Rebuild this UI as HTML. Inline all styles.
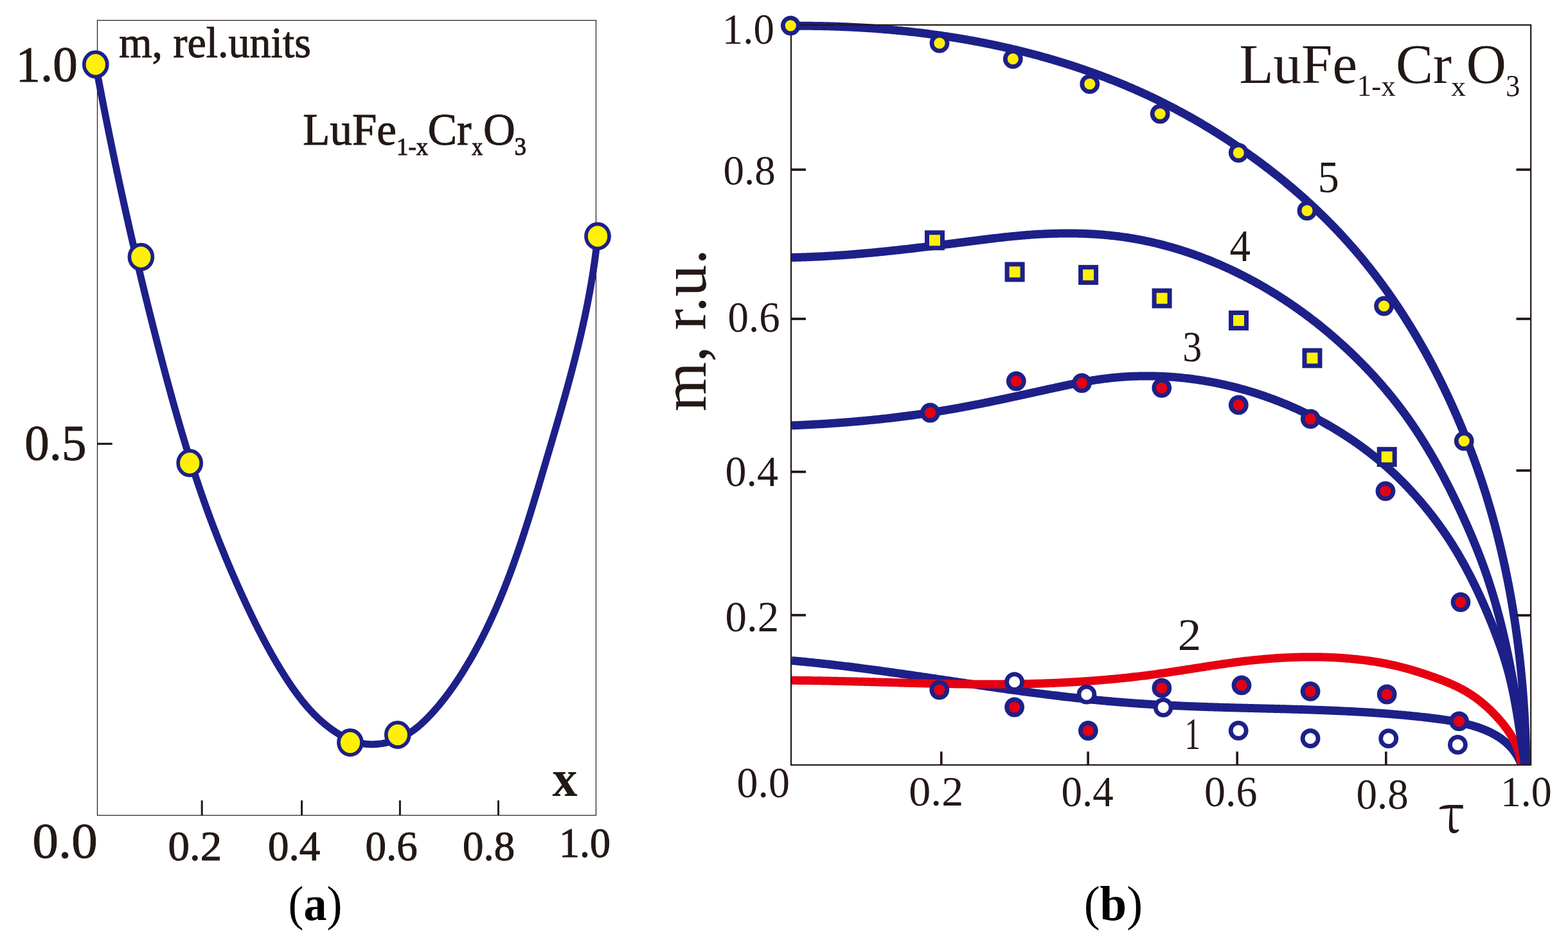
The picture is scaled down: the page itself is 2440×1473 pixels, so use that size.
<!DOCTYPE html>
<html><head><meta charset="utf-8"><title>LuFe1-xCrxO3 magnetization</title>
<style>html,body{margin:0;padding:0;background:#fff;width:2440px;height:1473px;overflow:hidden}svg{display:block}</style>
</head><body>
<svg width="2440" height="1473" viewBox="0 0 2440 1473" font-family="'Liberation Serif', 'Times New Roman', serif">
<rect width="2440" height="1473" fill="#fff"/>
<rect x="151.5" y="31.6" width="776" height="1236.6" fill="none" stroke="#231815" stroke-width="1.2"/>
<line x1="314.2" y1="1268" x2="314.2" y2="1245" stroke="#231815" stroke-width="3"/>
<line x1="469.6" y1="1268" x2="469.6" y2="1245" stroke="#231815" stroke-width="3"/>
<line x1="622.4" y1="1268" x2="622.4" y2="1245" stroke="#231815" stroke-width="3"/>
<line x1="775.5" y1="1268" x2="775.5" y2="1245" stroke="#231815" stroke-width="3"/>
<line x1="151.5" y1="690.3" x2="174.8" y2="690.3" stroke="#231815" stroke-width="3.2"/>
<path d="M148.8 100.2 L149.16 102.16 L149.53 104.13 L149.9 106.09 L150.26 108.06 L150.63 110.02 L151 111.98 L151.37 113.95 L151.74 115.91 L152.11 117.87 L152.48 119.84 L152.85 121.8 L153.22 123.76 L153.6 125.73 L153.97 127.69 L154.34 129.65 L154.72 131.61 L155.09 133.58 L155.47 135.54 L155.85 137.5 L156.22 139.46 L156.6 141.42 L156.98 143.39 L157.36 145.35 L157.74 147.31 L158.12 149.27 L158.5 151.23 L158.88 153.19 L159.26 155.15 L159.64 157.12 L160.03 159.08 L160.41 161.04 L160.79 163 L161.18 164.96 L161.56 166.92 L161.95 168.88 L162.34 170.84 L162.72 172.8 L163.11 174.76 L163.5 176.72 L163.89 178.68 L164.28 180.64 L164.67 182.6 L165.06 184.56 L165.45 186.52 L165.84 188.48 L166.23 190.44 L166.63 192.4 L167.02 194.36 L167.42 196.31 L167.81 198.27 L168.21 200.23 L168.6 202.19 L169 204.15 L169.4 206.11 L169.79 208.07 L170.19 210.02 L170.59 211.98 L170.99 213.94 L171.39 215.9 L171.79 217.85 L172.19 219.81 L172.6 221.77 L173 223.73 L173.4 225.68 L173.81 227.64 L174.21 229.6 L174.62 231.55 L175.02 233.51 L175.43 235.47 L175.84 237.42 L176.24 239.38 L176.65 241.34 L177.06 243.29 L177.47 245.25 L177.88 247.2 L178.29 249.16 L178.7 251.12 L179.11 253.07 L179.52 255.03 L179.94 256.98 L180.35 258.94 L180.77 260.89 L181.18 262.85 L181.6 264.8 L182.01 266.76 L182.43 268.71 L182.85 270.66 L183.26 272.62 L183.68 274.57 L184.1 276.53 L184.52 278.48 L184.94 280.43 L185.36 282.39 L185.78 284.34 L186.2 286.29 L186.63 288.25 L187.05 290.2 L187.47 292.15 L187.9 294.11 L188.32 296.06 L188.75 298.01 L189.17 299.96 L189.6 301.92 L190.03 303.87 L190.46 305.82 L190.89 307.77 L191.31 309.72 L191.74 311.67 L192.18 313.63 L192.61 315.58 L193.04 317.53 L193.47 319.48 L193.9 321.43 L194.34 323.38 L194.77 325.33 L195.2 327.28 L195.64 329.23 L196.08 331.18 L196.51 333.13 L196.95 335.08 L197.39 337.03 L197.83 338.98 L198.26 340.93 L198.7 342.88 L199.14 344.83 L199.58 346.78 L200.03 348.73 L200.47 350.68 L200.91 352.63 L201.35 354.58 L201.8 356.53 L202.24 358.47 L202.69 360.42 L203.13 362.37 L203.58 364.32 L204.02 366.27 L204.47 368.21 L204.92 370.16 L205.37 372.11 L205.82 374.06 L206.27 376 L206.72 377.95 L207.17 379.9 L207.62 381.84 L208.07 383.79 L208.52 385.74 L208.98 387.68 L209.43 389.63 L209.89 391.58 L210.34 393.52 L210.8 395.47 L211.25 397.41 L211.71 399.36 L212.17 401.3 L212.63 403.25 L213.09 405.19 L213.55 407.14 L214.01 409.08 L214.47 411.03 L214.93 412.97 L215.39 414.92 L215.85 416.86 L216.31 418.8 L216.78 420.75 L217.24 422.69 L217.71 424.64 L218.17 426.58 L218.64 428.52 L219.11 430.47 L219.57 432.41 L220.04 434.35 L220.51 436.29 L220.98 438.24 L221.45 440.18 L221.92 442.12 L222.39 444.06 L222.86 446.01 L223.33 447.95 L223.81 449.89 L224.28 451.83 L224.75 453.77 L225.23 455.71 L225.7 457.65 L226.18 459.59 L226.66 461.54 L227.13 463.48 L227.61 465.42 L228.09 467.36 L228.57 469.3 L229.05 471.24 L229.53 473.18 L230.01 475.12 L230.49 477.06 L230.97 478.99 L231.45 480.93 L231.94 482.87 L232.42 484.81 L232.9 486.75 L233.39 488.69 L233.88 490.63 L234.36 492.57 L234.85 494.5 L235.34 496.44 L235.82 498.38 L236.31 500.32 L236.8 502.25 L237.29 504.19 L237.78 506.13 L238.27 508.07 L238.76 510 L239.26 511.94 L239.75 513.88 L240.24 515.81 L240.74 517.75 L241.23 519.68 L241.73 521.62 L242.22 523.56 L242.72 525.49 L243.22 527.43 L243.71 529.36 L244.21 531.3 L244.71 533.23 L245.21 535.17 L245.71 537.1 L246.21 539.04 L246.71 540.97 L247.21 542.9 L247.72 544.84 L248.22 546.77 L248.72 548.71 L249.23 550.64 L249.73 552.57 L250.24 554.51 L250.75 556.44 L251.25 558.37 L251.76 560.3 L252.27 562.24 L252.78 564.17 L253.29 566.1 L253.8 568.03 L254.31 569.96 L254.82 571.9 L255.33 573.83 L255.85 575.76 L256.36 577.69 L256.87 579.62 L257.39 581.55 L257.91 583.48 L258.42 585.41 L258.94 587.34 L259.46 589.27 L259.98 591.2 L260.5 593.13 L261.02 595.06 L261.54 596.98 L262.07 598.91 L262.59 600.84 L263.12 602.77 L263.64 604.7 L264.17 606.62 L264.7 608.55 L265.23 610.48 L265.76 612.4 L266.29 614.33 L266.82 616.25 L267.35 618.18 L267.89 620.1 L268.42 622.03 L268.96 623.95 L269.49 625.88 L270.03 627.8 L270.57 629.73 L271.11 631.65 L271.65 633.57 L272.2 635.49 L272.74 637.42 L273.28 639.34 L273.83 641.26 L274.38 643.18 L274.93 645.1 L275.48 647.02 L276.03 648.94 L276.58 650.86 L277.13 652.78 L277.69 654.7 L278.24 656.62 L278.8 658.54 L279.36 660.45 L279.92 662.37 L280.48 664.29 L281.05 666.2 L281.61 668.12 L282.17 670.04 L282.74 671.95 L283.31 673.87 L283.88 675.78 L284.45 677.7 L285.02 679.61 L285.6 681.52 L286.17 683.44 L286.75 685.35 L287.33 687.26 L287.91 689.17 L288.49 691.08 L289.07 692.99 L289.66 694.9 L290.24 696.81 L290.83 698.72 L291.42 700.63 L292.01 702.54 L292.6 704.45 L293.2 706.35 L293.79 708.26 L294.39 710.17 L294.99 712.07 L295.59 713.98 L296.19 715.88 L296.79 717.79 L297.4 719.69 L298.01 721.59 L298.62 723.5 L299.23 725.4 L299.84 727.3 L300.45 729.2 L301.07 731.1 L301.69 733 L302.31 734.9 L302.93 736.8 L303.55 738.7 L304.18 740.6 L304.8 742.49 L305.43 744.39 L306.06 746.29 L306.7 748.18 L307.33 750.08 L307.97 751.97 L308.6 753.86 L309.24 755.76 L309.89 757.65 L310.53 759.54 L311.18 761.43 L311.83 763.32 L312.48 765.21 L313.13 767.1 L313.78 768.99 L314.44 770.88 L315.1 772.77 L315.76 774.66 L316.42 776.54 L317.08 778.43 L317.75 780.31 L318.42 782.2 L319.09 784.08 L319.76 785.96 L320.44 787.85 L321.12 789.73 L321.79 791.61 L322.48 793.49 L323.16 795.37 L323.85 797.25 L324.53 799.13 L325.22 801 L325.92 802.88 L326.61 804.76 L327.31 806.63 L328.01 808.51 L328.71 810.38 L329.41 812.26 L330.12 814.13 L330.83 816 L331.54 817.87 L332.25 819.74 L332.96 821.61 L333.68 823.48 L334.4 825.35 L335.12 827.22 L335.84 829.08 L336.56 830.95 L337.29 832.81 L338.02 834.68 L338.75 836.54 L339.48 838.4 L340.22 840.26 L340.95 842.12 L341.69 843.98 L342.44 845.84 L343.18 847.7 L343.92 849.56 L344.67 851.41 L345.42 853.27 L346.17 855.12 L346.93 856.97 L347.68 858.83 L348.44 860.68 L349.2 862.53 L349.96 864.38 L350.72 866.23 L351.49 868.08 L352.26 869.92 L353.03 871.77 L353.8 873.61 L354.57 875.46 L355.35 877.3 L356.13 879.14 L356.91 880.98 L357.69 882.82 L358.47 884.66 L359.26 886.5 L360.04 888.34 L360.83 890.17 L361.63 892.01 L362.42 893.84 L363.21 895.67 L364.01 897.5 L364.81 899.33 L365.61 901.16 L366.42 902.99 L367.22 904.82 L368.03 906.65 L368.84 908.47 L369.65 910.29 L370.46 912.12 L371.27 913.94 L372.09 915.76 L372.91 917.58 L373.73 919.4 L374.55 921.21 L375.38 923.03 L376.2 924.84 L377.03 926.66 L377.86 928.47 L378.69 930.28 L379.53 932.09 L380.36 933.9 L381.2 935.71 L382.04 937.51 L382.88 939.32 L383.72 941.12 L384.57 942.93 L385.41 944.73 L386.26 946.53 L387.11 948.33 L387.97 950.12 L388.82 951.92 L389.68 953.71 L390.54 955.51 L391.4 957.3 L392.27 959.09 L393.14 960.88 L394.01 962.67 L394.88 964.45 L395.76 966.24 L396.64 968.02 L397.52 969.81 L398.4 971.59 L399.29 973.37 L400.18 975.14 L401.07 976.92 L401.97 978.7 L402.87 980.47 L403.77 982.24 L404.68 984.01 L405.59 985.78 L406.5 987.55 L407.42 989.31 L408.34 991.08 L409.26 992.84 L410.19 994.6 L411.12 996.36 L412.06 998.12 L412.99 999.88 L413.94 1001.63 L414.88 1003.38 L415.83 1005.14 L416.79 1006.88 L417.75 1008.63 L418.71 1010.38 L419.68 1012.12 L420.65 1013.87 L421.62 1015.61 L422.6 1017.35 L423.59 1019.09 L424.58 1020.82 L425.57 1022.56 L426.57 1024.29 L427.57 1026.02 L428.58 1027.75 L429.59 1029.47 L430.61 1031.2 L431.63 1032.92 L432.66 1034.64 L433.69 1036.36 L434.73 1038.08 L435.77 1039.8 L436.82 1041.51 L437.87 1043.22 L438.93 1044.93 L439.99 1046.64 L441.06 1048.35 L442.13 1050.05 L443.21 1051.75 L444.3 1053.45 L445.39 1055.15 L446.49 1056.84 L447.59 1058.53 L448.7 1060.21 L449.82 1061.89 L450.94 1063.57 L452.07 1065.24 L453.21 1066.91 L454.35 1068.57 L455.51 1070.23 L456.66 1071.88 L457.83 1073.53 L459.01 1075.17 L460.19 1076.8 L461.38 1078.43 L462.58 1080.05 L463.78 1081.66 L465 1083.27 L466.22 1084.86 L467.45 1086.45 L468.69 1088.04 L469.94 1089.61 L471.2 1091.17 L472.47 1092.73 L473.74 1094.28 L475.03 1095.81 L476.32 1097.34 L477.63 1098.86 L478.95 1100.37 L480.27 1101.87 L481.61 1103.35 L482.95 1104.83 L484.31 1106.29 L485.68 1107.75 L487.05 1109.19 L488.44 1110.62 L489.84 1112.03 L491.25 1113.44 L492.67 1114.83 L494.11 1116.21 L495.55 1117.57 L497.01 1118.93 L498.48 1120.26 L499.96 1121.59 L501.45 1122.9 L502.96 1124.19 L504.47 1125.48 L506 1126.74 L507.54 1127.99 L509.1 1129.23 L510.67 1130.45 L512.25 1131.65 L513.84 1132.84 L515.45 1134.01 L517.07 1135.16 L518.71 1136.3 L520.36 1137.41 L522.02 1138.52 L523.69 1139.6 L525.39 1140.66 L527.09 1141.71 L528.81 1142.73 L530.54 1143.73 L532.28 1144.71 L534.04 1145.66 L535.81 1146.59 L537.6 1147.49 L539.39 1148.35 L541.2 1149.19 L543.02 1150 L544.86 1150.77 L546.7 1151.51 L548.56 1152.21 L550.43 1152.88 L552.31 1153.51 L554.2 1154.09 L556.1 1154.64 L558.01 1155.14 L559.93 1155.6 L561.86 1156.02 L563.81 1156.39 L565.76 1156.71 L567.72 1156.99 L569.69 1157.22 L571.67 1157.41 L573.65 1157.55 L575.63 1157.65 L577.62 1157.7 L579.61 1157.71 L581.61 1157.68 L583.61 1157.61 L585.6 1157.5 L587.6 1157.34 L589.59 1157.14 L591.58 1156.9 L593.57 1156.63 L595.56 1156.31 L597.54 1155.95 L599.51 1155.56 L601.48 1155.13 L603.43 1154.65 L605.39 1154.15 L607.33 1153.6 L609.26 1153.02 L611.18 1152.4 L613.09 1151.75 L614.99 1151.07 L616.87 1150.35 L618.74 1149.6 L620.6 1148.81 L622.45 1148 L624.28 1147.15 L626.09 1146.27 L627.88 1145.37 L629.66 1144.43 L631.43 1143.46 L633.17 1142.47 L634.89 1141.45 L636.6 1140.4 L638.28 1139.33 L639.94 1138.23 L641.58 1137.11 L643.2 1135.96 L644.81 1134.79 L646.39 1133.59 L647.95 1132.38 L649.5 1131.14 L651.03 1129.89 L652.54 1128.61 L654.04 1127.32 L655.52 1126.01 L656.99 1124.68 L658.44 1123.33 L659.88 1121.97 L661.31 1120.6 L662.73 1119.21 L664.13 1117.81 L665.53 1116.4 L666.91 1114.98 L668.29 1113.54 L669.65 1112.1 L671.01 1110.65 L672.36 1109.19 L673.7 1107.72 L675.04 1106.24 L676.36 1104.75 L677.68 1103.26 L678.99 1101.75 L680.29 1100.24 L681.59 1098.72 L682.88 1097.19 L684.15 1095.66 L685.43 1094.11 L686.69 1092.56 L687.95 1091 L689.2 1089.44 L690.44 1087.87 L691.67 1086.29 L692.9 1084.7 L694.12 1083.11 L695.33 1081.51 L696.53 1079.91 L697.73 1078.3 L698.92 1076.68 L700.11 1075.06 L701.29 1073.43 L702.46 1071.8 L703.62 1070.16 L704.78 1068.52 L705.93 1066.87 L707.07 1065.21 L708.21 1063.55 L709.34 1061.89 L710.46 1060.22 L711.58 1058.55 L712.69 1056.87 L713.8 1055.19 L714.9 1053.51 L715.99 1051.82 L717.08 1050.13 L718.16 1048.43 L719.23 1046.73 L720.3 1045.03 L721.37 1043.33 L722.42 1041.62 L723.48 1039.91 L724.52 1038.19 L725.56 1036.48 L726.6 1034.76 L727.63 1033.04 L728.65 1031.31 L729.67 1029.59 L730.68 1027.86 L731.69 1026.13 L732.69 1024.4 L733.69 1022.66 L734.68 1020.92 L735.67 1019.18 L736.65 1017.44 L737.62 1015.7 L738.59 1013.95 L739.56 1012.2 L740.52 1010.45 L741.47 1008.69 L742.42 1006.94 L743.37 1005.18 L744.31 1003.42 L745.25 1001.66 L746.18 999.89 L747.1 998.12 L748.02 996.36 L748.94 994.58 L749.85 992.81 L750.76 991.04 L751.66 989.26 L752.55 987.48 L753.45 985.7 L754.33 983.91 L755.22 982.13 L756.1 980.34 L756.97 978.55 L757.84 976.76 L758.71 974.97 L759.57 973.17 L760.42 971.37 L761.27 969.57 L762.12 967.77 L762.97 965.97 L763.8 964.16 L764.64 962.36 L765.47 960.55 L766.3 958.74 L767.12 956.93 L767.94 955.11 L768.75 953.3 L769.56 951.48 L770.37 949.66 L771.17 947.84 L771.97 946.01 L772.76 944.19 L773.55 942.36 L774.34 940.54 L775.12 938.71 L775.9 936.88 L776.68 935.04 L777.45 933.21 L778.22 931.37 L778.98 929.53 L779.75 927.69 L780.5 925.85 L781.26 924.01 L782.01 922.17 L782.76 920.32 L783.5 918.48 L784.24 916.63 L784.98 914.78 L785.71 912.93 L786.44 911.07 L787.17 909.22 L787.89 907.36 L788.61 905.51 L789.33 903.65 L790.04 901.79 L790.75 899.93 L791.46 898.07 L792.17 896.2 L792.87 894.34 L793.57 892.47 L794.27 890.6 L794.96 888.73 L795.65 886.86 L796.34 884.99 L797.02 883.12 L797.7 881.25 L798.38 879.37 L799.06 877.5 L799.73 875.62 L800.41 873.74 L801.07 871.86 L801.74 869.98 L802.4 868.1 L803.07 866.22 L803.72 864.33 L804.38 862.45 L805.03 860.56 L805.69 858.68 L806.34 856.79 L806.98 854.9 L807.63 853.01 L808.27 851.12 L808.91 849.23 L809.55 847.33 L810.18 845.44 L810.82 843.55 L811.45 841.65 L812.08 839.76 L812.71 837.86 L813.33 835.96 L813.96 834.06 L814.58 832.16 L815.2 830.26 L815.82 828.36 L816.43 826.46 L817.05 824.56 L817.66 822.65 L818.27 820.75 L818.88 818.84 L819.49 816.94 L820.1 815.03 L820.7 813.13 L821.3 811.22 L821.91 809.31 L822.51 807.4 L823.1 805.49 L823.7 803.58 L824.3 801.67 L824.89 799.76 L825.49 797.85 L826.08 795.94 L826.67 794.02 L827.26 792.11 L827.85 790.2 L828.43 788.28 L829.02 786.37 L829.61 784.45 L830.19 782.54 L830.77 780.62 L831.35 778.71 L831.94 776.79 L832.52 774.87 L833.1 772.96 L833.67 771.04 L834.25 769.12 L834.83 767.2 L835.41 765.29 L835.98 763.37 L836.56 761.45 L837.13 759.53 L837.7 757.61 L838.28 755.69 L838.85 753.77 L839.42 751.85 L839.99 749.93 L840.56 748.01 L841.13 746.09 L841.7 744.17 L842.27 742.25 L842.84 740.33 L843.41 738.41 L843.98 736.48 L844.55 734.56 L845.12 732.64 L845.69 730.72 L846.26 728.8 L846.82 726.88 L847.39 724.96 L847.96 723.04 L848.53 721.12 L849.1 719.2 L849.67 717.28 L850.23 715.35 L850.8 713.43 L851.37 711.51 L851.94 709.59 L852.51 707.67 L853.08 705.75 L853.64 703.83 L854.21 701.91 L854.78 699.99 L855.35 698.07 L855.92 696.15 L856.48 694.23 L857.05 692.31 L857.62 690.39 L858.18 688.47 L858.75 686.55 L859.32 684.63 L859.88 682.71 L860.45 680.79 L861.01 678.87 L861.58 676.95 L862.14 675.03 L862.7 673.11 L863.27 671.19 L863.83 669.27 L864.39 667.35 L864.95 665.43 L865.51 663.51 L866.07 661.58 L866.63 659.66 L867.19 657.74 L867.75 655.82 L868.31 653.9 L868.86 651.98 L869.42 650.06 L869.97 648.14 L870.53 646.21 L871.08 644.29 L871.63 642.37 L872.19 640.45 L872.74 638.53 L873.29 636.6 L873.84 634.68 L874.38 632.76 L874.93 630.84 L875.48 628.91 L876.02 626.99 L876.57 625.07 L877.11 623.14 L877.65 621.22 L878.19 619.3 L878.73 617.37 L879.27 615.45 L879.81 613.52 L880.35 611.6 L880.88 609.67 L881.41 607.75 L881.95 605.82 L882.48 603.9 L883.01 601.97 L883.53 600.04 L884.06 598.12 L884.59 596.19 L885.11 594.26 L885.63 592.34 L886.16 590.41 L886.67 588.48 L887.19 586.55 L887.71 584.62 L888.22 582.7 L888.74 580.77 L889.25 578.84 L889.76 576.91 L890.27 574.98 L890.78 573.05 L891.28 571.12 L891.78 569.18 L892.29 567.25 L892.79 565.32 L893.28 563.39 L893.78 561.46 L894.28 559.52 L894.77 557.59 L895.26 555.66 L895.75 553.72 L896.23 551.79 L896.72 549.85 L897.2 547.92 L897.68 545.98 L898.16 544.05 L898.64 542.11 L899.11 540.17 L899.59 538.24 L900.06 536.3 L900.52 534.36 L900.99 532.42 L901.45 530.48 L901.92 528.54 L902.38 526.6 L902.83 524.66 L903.29 522.72 L903.74 520.78 L904.19 518.84 L904.64 516.89 L905.09 514.95 L905.53 513.01 L905.97 511.06 L906.41 509.12 L906.84 507.17 L907.28 505.23 L907.71 503.28 L908.14 501.34 L908.56 499.39 L908.98 497.44 L909.4 495.49 L909.82 493.54 L910.24 491.59 L910.65 489.64 L911.06 487.69 L911.47 485.74 L911.87 483.79 L912.27 481.84 L912.67 479.89 L913.07 477.93 L913.46 475.98 L913.85 474.02 L914.24 472.07 L914.62 470.11 L915 468.16 L915.38 466.2 L915.76 464.24 L916.13 462.28 L916.5 460.32 L916.87 458.36 L917.23 456.4 L917.59 454.44 L917.95 452.48 L918.3 450.52 L918.65 448.55 L919 446.59 L919.34 444.62 L919.69 442.66 L920.02 440.69 L920.36 438.73 L920.69 436.76 L921.02 434.79 L921.34 432.82 L921.66 430.85 L921.98 428.88 L922.29 426.91 L922.61 424.94 L922.91 422.97 L923.22 420.99 L923.52 419.02 L923.81 417.04 L924.11 415.07 L924.4 413.09 L924.68 411.11 L924.97 409.14 L925.24 407.16 L925.52 405.18 L925.79 403.2 L926.06 401.21 L926.32 399.23 L926.58 397.25 L926.84 395.27 L927.09 393.28 L927.34 391.3 L927.58 389.31 L927.82 387.32 L928.06 385.33 L928.29 383.34 L928.52 381.35 L928.75 379.36 L928.97 377.37 L929.19 375.38 L929.4 373.39 L929.61 371.39 L929.81 369.4 L930.01 367.4" fill="none" stroke="#1d2088" stroke-width="11" stroke-linejoin="round"/>
<ellipse cx="148.8" cy="100.2" rx="18" ry="19.1" fill="#fff100" stroke="#1d2088" stroke-width="5.7"/>
<ellipse cx="219.4" cy="399.7" rx="18" ry="19.1" fill="#fff100" stroke="#1d2088" stroke-width="5.7"/>
<ellipse cx="295.2" cy="720.2" rx="18" ry="19.1" fill="#fff100" stroke="#1d2088" stroke-width="5.7"/>
<ellipse cx="545" cy="1155" rx="18" ry="19.1" fill="#fff100" stroke="#1d2088" stroke-width="5.7"/>
<ellipse cx="618.8" cy="1143" rx="18" ry="19.1" fill="#fff100" stroke="#1d2088" stroke-width="5.7"/>
<ellipse cx="930" cy="367.4" rx="18" ry="19.1" fill="#fff100" stroke="#1d2088" stroke-width="5.7"/>
<g fill="none" stroke-width="13" stroke-linecap="butt" stroke-linejoin="round">
<path d="M1232 1027.5 L1233.99 1027.67 L1235.98 1027.85 L1237.97 1028.03 L1239.96 1028.21 L1241.95 1028.4 L1243.94 1028.58 L1245.93 1028.77 L1247.92 1028.96 L1249.91 1029.15 L1251.9 1029.34 L1253.88 1029.53 L1255.87 1029.73 L1257.86 1029.92 L1259.85 1030.12 L1261.84 1030.32 L1263.82 1030.53 L1265.81 1030.73 L1267.8 1030.94 L1269.78 1031.14 L1271.77 1031.35 L1273.76 1031.56 L1275.74 1031.78 L1277.73 1031.99 L1279.71 1032.21 L1281.7 1032.42 L1283.69 1032.64 L1285.67 1032.86 L1287.66 1033.08 L1289.64 1033.31 L1291.62 1033.53 L1293.61 1033.76 L1295.59 1033.98 L1297.58 1034.21 L1299.56 1034.44 L1301.55 1034.68 L1303.53 1034.91 L1305.51 1035.14 L1307.5 1035.38 L1309.48 1035.62 L1311.46 1035.86 L1313.44 1036.1 L1315.43 1036.34 L1317.41 1036.58 L1319.39 1036.82 L1321.37 1037.07 L1323.35 1037.31 L1325.34 1037.56 L1327.32 1037.81 L1329.3 1038.06 L1331.28 1038.31 L1333.26 1038.56 L1335.24 1038.82 L1337.22 1039.07 L1339.2 1039.33 L1341.19 1039.58 L1343.17 1039.84 L1345.15 1040.1 L1347.13 1040.36 L1349.11 1040.62 L1351.09 1040.88 L1353.07 1041.14 L1355.05 1041.41 L1357.03 1041.67 L1359.01 1041.94 L1360.98 1042.2 L1362.96 1042.47 L1364.94 1042.74 L1366.92 1043.01 L1368.9 1043.28 L1370.88 1043.55 L1372.86 1043.82 L1374.84 1044.09 L1376.82 1044.37 L1378.79 1044.64 L1380.77 1044.92 L1382.75 1045.19 L1384.73 1045.47 L1386.71 1045.74 L1388.69 1046.02 L1390.66 1046.3 L1392.64 1046.58 L1394.62 1046.86 L1396.6 1047.14 L1398.57 1047.42 L1400.55 1047.7 L1402.53 1047.99 L1404.51 1048.27 L1406.48 1048.55 L1408.46 1048.84 L1410.44 1049.12 L1412.41 1049.41 L1414.39 1049.69 L1416.37 1049.98 L1418.35 1050.26 L1420.32 1050.55 L1422.3 1050.84 L1424.28 1051.13 L1426.25 1051.42 L1428.23 1051.7 L1430.21 1051.99 L1432.18 1052.28 L1434.16 1052.57 L1436.14 1052.86 L1438.11 1053.15 L1440.09 1053.44 L1442.07 1053.73 L1444.04 1054.03 L1446.02 1054.32 L1447.99 1054.61 L1449.97 1054.9 L1451.95 1055.19 L1453.92 1055.49 L1455.9 1055.78 L1457.87 1056.07 L1459.85 1056.36 L1461.83 1056.66 L1463.8 1056.95 L1465.78 1057.24 L1467.76 1057.54 L1469.73 1057.83 L1471.71 1058.12 L1473.68 1058.42 L1475.66 1058.71 L1477.64 1059 L1479.61 1059.3 L1481.59 1059.59 L1483.56 1059.88 L1485.54 1060.18 L1487.52 1060.47 L1489.49 1060.76 L1491.47 1061.06 L1493.44 1061.35 L1495.42 1061.64 L1497.4 1061.93 L1499.37 1062.23 L1501.35 1062.52 L1503.33 1062.81 L1505.3 1063.1 L1507.28 1063.39 L1509.26 1063.69 L1511.23 1063.98 L1513.21 1064.27 L1515.18 1064.56 L1517.16 1064.85 L1519.14 1065.14 L1521.11 1065.43 L1523.09 1065.72 L1525.07 1066 L1527.04 1066.29 L1529.02 1066.58 L1531 1066.87 L1532.97 1067.16 L1534.95 1067.44 L1536.93 1067.73 L1538.91 1068.01 L1540.88 1068.3 L1542.86 1068.58 L1544.84 1068.87 L1546.81 1069.15 L1548.79 1069.43 L1550.77 1069.72 L1552.75 1070 L1554.72 1070.28 L1556.7 1070.56 L1558.68 1070.84 L1560.66 1071.12 L1562.64 1071.4 L1564.61 1071.68 L1566.59 1071.95 L1568.57 1072.23 L1570.55 1072.5 L1572.53 1072.78 L1574.51 1073.05 L1576.48 1073.33 L1578.46 1073.6 L1580.44 1073.87 L1582.42 1074.14 L1584.4 1074.41 L1586.38 1074.68 L1588.36 1074.95 L1590.34 1075.22 L1592.32 1075.48 L1594.3 1075.75 L1596.28 1076.01 L1598.26 1076.28 L1600.24 1076.54 L1602.22 1076.8 L1604.2 1077.06 L1606.18 1077.32 L1608.16 1077.58 L1610.14 1077.84 L1612.12 1078.1 L1614.1 1078.35 L1616.08 1078.61 L1618.06 1078.86 L1620.04 1079.12 L1622.02 1079.37 L1624 1079.62 L1625.99 1079.87 L1627.97 1080.12 L1629.95 1080.36 L1631.93 1080.61 L1633.91 1080.85 L1635.9 1081.1 L1637.88 1081.34 L1639.86 1081.58 L1641.84 1081.82 L1643.83 1082.06 L1645.81 1082.3 L1647.79 1082.54 L1649.77 1082.77 L1651.76 1083.01 L1653.74 1083.24 L1655.72 1083.47 L1657.71 1083.7 L1659.69 1083.93 L1661.68 1084.16 L1663.66 1084.38 L1665.64 1084.61 L1667.63 1084.83 L1669.61 1085.05 L1671.6 1085.27 L1673.58 1085.49 L1675.57 1085.71 L1677.55 1085.93 L1679.54 1086.14 L1681.52 1086.36 L1683.51 1086.57 L1685.5 1086.78 L1687.48 1086.99 L1689.47 1087.2 L1691.45 1087.4 L1693.44 1087.61 L1695.43 1087.81 L1697.41 1088.01 L1699.4 1088.21 L1701.39 1088.41 L1703.38 1088.61 L1705.36 1088.8 L1707.35 1089 L1709.34 1089.19 L1711.33 1089.38 L1713.31 1089.57 L1715.3 1089.75 L1717.29 1089.94 L1719.28 1090.12 L1721.27 1090.31 L1723.26 1090.49 L1725.25 1090.66 L1727.24 1090.84 L1729.23 1091.02 L1731.22 1091.19 L1733.21 1091.36 L1735.2 1091.53 L1737.19 1091.7 L1739.18 1091.87 L1741.17 1092.03 L1743.16 1092.19 L1745.15 1092.35 L1747.14 1092.51 L1749.13 1092.67 L1751.12 1092.83 L1753.12 1092.98 L1755.11 1093.13 L1757.1 1093.28 L1759.09 1093.43 L1761.09 1093.57 L1763.08 1093.72 L1765.07 1093.86 L1767.06 1094 L1769.06 1094.14 L1771.05 1094.28 L1773.04 1094.41 L1775.04 1094.55 L1777.03 1094.68 L1779.03 1094.81 L1781.02 1094.94 L1783.02 1095.07 L1785.01 1095.19 L1787 1095.32 L1789 1095.44 L1790.99 1095.56 L1792.99 1095.68 L1794.98 1095.8 L1796.98 1095.91 L1798.98 1096.03 L1800.97 1096.14 L1802.97 1096.25 L1804.96 1096.36 L1806.96 1096.47 L1808.95 1096.58 L1810.95 1096.69 L1812.95 1096.79 L1814.94 1096.89 L1816.94 1097 L1818.93 1097.1 L1820.93 1097.2 L1822.93 1097.3 L1824.92 1097.39 L1826.92 1097.49 L1828.92 1097.58 L1830.91 1097.68 L1832.91 1097.77 L1834.91 1097.86 L1836.91 1097.95 L1838.9 1098.04 L1840.9 1098.12 L1842.9 1098.21 L1844.89 1098.29 L1846.89 1098.38 L1848.89 1098.46 L1850.89 1098.54 L1852.88 1098.62 L1854.88 1098.7 L1856.88 1098.78 L1858.87 1098.86 L1860.87 1098.93 L1862.87 1099.01 L1864.87 1099.08 L1866.86 1099.16 L1868.86 1099.23 L1870.86 1099.3 L1872.86 1099.37 L1874.85 1099.44 L1876.85 1099.51 L1878.85 1099.58 L1880.85 1099.65 L1882.84 1099.71 L1884.84 1099.78 L1886.84 1099.84 L1888.84 1099.91 L1890.83 1099.97 L1892.83 1100.03 L1894.83 1100.09 L1896.82 1100.16 L1898.82 1100.22 L1900.82 1100.28 L1902.82 1100.34 L1904.81 1100.39 L1906.81 1100.45 L1908.81 1100.51 L1910.8 1100.57 L1912.8 1100.62 L1914.8 1100.68 L1916.79 1100.73 L1918.79 1100.79 L1920.79 1100.84 L1922.78 1100.89 L1924.78 1100.95 L1926.78 1101 L1928.77 1101.05 L1930.77 1101.11 L1932.76 1101.16 L1934.76 1101.21 L1936.76 1101.26 L1938.75 1101.31 L1940.75 1101.36 L1942.75 1101.41 L1944.74 1101.46 L1946.74 1101.51 L1948.73 1101.56 L1950.73 1101.61 L1952.73 1101.66 L1954.72 1101.71 L1956.72 1101.76 L1958.71 1101.81 L1960.71 1101.86 L1962.7 1101.91 L1964.7 1101.96 L1966.7 1102.01 L1968.69 1102.06 L1970.69 1102.11 L1972.68 1102.16 L1974.68 1102.21 L1976.67 1102.26 L1978.67 1102.31 L1980.66 1102.36 L1982.66 1102.41 L1984.65 1102.46 L1986.65 1102.51 L1988.64 1102.56 L1990.64 1102.61 L1992.63 1102.66 L1994.63 1102.71 L1996.62 1102.77 L1998.62 1102.82 L2000.61 1102.87 L2002.61 1102.93 L2004.6 1102.98 L2006.6 1103.04 L2008.59 1103.09 L2010.59 1103.15 L2012.58 1103.2 L2014.58 1103.26 L2016.57 1103.32 L2018.57 1103.37 L2020.56 1103.43 L2022.55 1103.49 L2024.55 1103.55 L2026.54 1103.61 L2028.54 1103.67 L2030.53 1103.73 L2032.53 1103.8 L2034.52 1103.86 L2036.51 1103.92 L2038.51 1103.99 L2040.5 1104.05 L2042.5 1104.12 L2044.49 1104.19 L2046.49 1104.25 L2048.48 1104.32 L2050.47 1104.39 L2052.47 1104.47 L2054.46 1104.54 L2056.45 1104.61 L2058.45 1104.68 L2060.44 1104.76 L2062.44 1104.84 L2064.43 1104.91 L2066.42 1104.99 L2068.42 1105.07 L2070.41 1105.15 L2072.4 1105.23 L2074.4 1105.31 L2076.39 1105.4 L2078.38 1105.48 L2080.38 1105.57 L2082.37 1105.66 L2084.36 1105.75 L2086.36 1105.84 L2088.35 1105.93 L2090.34 1106.02 L2092.34 1106.12 L2094.33 1106.21 L2096.32 1106.31 L2098.32 1106.41 L2100.31 1106.51 L2102.3 1106.61 L2104.3 1106.71 L2106.29 1106.82 L2108.28 1106.93 L2110.27 1107.03 L2112.27 1107.14 L2114.26 1107.25 L2116.25 1107.37 L2118.25 1107.48 L2120.24 1107.6 L2122.23 1107.72 L2124.22 1107.84 L2126.22 1107.96 L2128.21 1108.08 L2130.2 1108.2 L2132.19 1108.33 L2134.19 1108.46 L2136.18 1108.59 L2138.17 1108.72 L2140.16 1108.86 L2142.16 1108.99 L2144.15 1109.13 L2146.14 1109.27 L2148.13 1109.41 L2150.12 1109.56 L2152.12 1109.7 L2154.11 1109.85 L2156.1 1110 L2158.09 1110.15 L2160.09 1110.31 L2162.08 1110.46 L2164.07 1110.62 L2166.06 1110.78 L2168.05 1110.94 L2170.05 1111.11 L2172.04 1111.28 L2174.03 1111.45 L2176.02 1111.62 L2178.01 1111.79 L2180.01 1111.97 L2182 1112.15 L2183.99 1112.33 L2185.98 1112.51 L2187.97 1112.7 L2189.96 1112.89 L2191.96 1113.08 L2193.95 1113.27 L2195.94 1113.47 L2197.93 1113.66 L2199.92 1113.87 L2201.91 1114.07 L2203.9 1114.27 L2205.9 1114.48 L2207.89 1114.69 L2209.88 1114.91 L2211.87 1115.13 L2213.86 1115.34 L2215.85 1115.57 L2217.84 1115.79 L2219.84 1116.02 L2221.83 1116.25 L2223.82 1116.48 L2225.81 1116.72 L2227.8 1116.96 L2229.79 1117.2 L2231.78 1117.44 L2233.77 1117.69 L2235.76 1117.95 L2237.75 1118.21 L2239.74 1118.47 L2241.73 1118.75 L2243.72 1119.02 L2245.7 1119.31 L2247.69 1119.6 L2249.67 1119.9 L2251.65 1120.2 L2253.64 1120.52 L2255.62 1120.84 L2257.6 1121.17 L2259.57 1121.51 L2261.55 1121.86 L2263.52 1122.22 L2265.5 1122.59 L2267.47 1122.97 L2269.44 1123.37 L2271.4 1123.77 L2273.37 1124.19 L2275.33 1124.62 L2277.29 1125.06 L2279.24 1125.51 L2281.19 1125.98 L2283.14 1126.47 L2285.08 1126.97 L2287.02 1127.48 L2288.95 1128.01 L2290.88 1128.55 L2292.8 1129.12 L2294.71 1129.7 L2296.62 1130.29 L2298.52 1130.91 L2300.41 1131.54 L2302.3 1132.19 L2304.17 1132.86 L2306.04 1133.55 L2307.9 1134.27 L2309.74 1135 L2311.58 1135.75 L2313.4 1136.53 L2315.21 1137.32 L2317.01 1138.14 L2318.79 1138.99 L2320.56 1139.85 L2322.31 1140.75 L2324.05 1141.66 L2325.77 1142.6 L2327.47 1143.57 L2329.15 1144.56 L2330.82 1145.58 L2332.47 1146.63 L2334.09 1147.7 L2335.7 1148.81 L2337.28 1149.94 L2338.84 1151.1 L2340.37 1152.29 L2341.88 1153.51 L2343.37 1154.76 L2344.83 1156.04 L2346.26 1157.36 L2347.66 1158.7 L2349.03 1160.08 L2350.38 1161.49 L2351.69 1162.94 L2352.98 1164.42 L2354.23 1165.93 L2355.45 1167.48 L2356.63 1169.07 L2357.78 1170.69 L2358.9 1172.34 L2359.98 1174.04 L2361.02 1175.77 L2362.02 1177.54 L2362.99 1179.35 L2363.91 1181.2 L2364.8 1183.09 L2365.64 1185.02 L2366.45 1186.99 L2367.21 1189" stroke="#1d2088"/>
<path d="M1232 1058.3 L1234 1058.31 L1236 1058.33 L1238 1058.34 L1240 1058.36 L1242 1058.38 L1244 1058.39 L1245.99 1058.41 L1247.99 1058.43 L1249.99 1058.45 L1251.99 1058.48 L1253.99 1058.5 L1255.99 1058.52 L1257.99 1058.55 L1259.99 1058.58 L1261.99 1058.6 L1263.99 1058.63 L1265.98 1058.66 L1267.98 1058.69 L1269.98 1058.72 L1271.98 1058.76 L1273.98 1058.79 L1275.98 1058.82 L1277.98 1058.86 L1279.98 1058.89 L1281.98 1058.93 L1283.97 1058.97 L1285.97 1059 L1287.97 1059.04 L1289.97 1059.08 L1291.97 1059.12 L1293.97 1059.16 L1295.97 1059.21 L1297.97 1059.25 L1299.96 1059.29 L1301.96 1059.33 L1303.96 1059.38 L1305.96 1059.42 L1307.96 1059.47 L1309.96 1059.51 L1311.96 1059.56 L1313.96 1059.61 L1315.95 1059.66 L1317.95 1059.7 L1319.95 1059.75 L1321.95 1059.8 L1323.95 1059.85 L1325.95 1059.9 L1327.95 1059.95 L1329.95 1060 L1331.94 1060.05 L1333.94 1060.11 L1335.94 1060.16 L1337.94 1060.21 L1339.94 1060.26 L1341.94 1060.31 L1343.94 1060.37 L1345.93 1060.42 L1347.93 1060.48 L1349.93 1060.53 L1351.93 1060.58 L1353.93 1060.64 L1355.93 1060.69 L1357.92 1060.75 L1359.92 1060.8 L1361.92 1060.86 L1363.92 1060.91 L1365.92 1060.97 L1367.92 1061.02 L1369.92 1061.08 L1371.91 1061.14 L1373.91 1061.19 L1375.91 1061.25 L1377.91 1061.3 L1379.91 1061.36 L1381.91 1061.41 L1383.91 1061.47 L1385.9 1061.52 L1387.9 1061.58 L1389.9 1061.64 L1391.9 1061.69 L1393.9 1061.75 L1395.9 1061.8 L1397.89 1061.86 L1399.89 1061.91 L1401.89 1061.97 L1403.89 1062.02 L1405.89 1062.07 L1407.89 1062.13 L1409.89 1062.18 L1411.88 1062.24 L1413.88 1062.29 L1415.88 1062.34 L1417.88 1062.39 L1419.88 1062.45 L1421.88 1062.5 L1423.87 1062.55 L1425.87 1062.6 L1427.87 1062.65 L1429.87 1062.7 L1431.87 1062.75 L1433.87 1062.8 L1435.87 1062.85 L1437.86 1062.9 L1439.86 1062.95 L1441.86 1062.99 L1443.86 1063.04 L1445.86 1063.09 L1447.86 1063.13 L1449.85 1063.18 L1451.85 1063.22 L1453.85 1063.27 L1455.85 1063.31 L1457.85 1063.35 L1459.85 1063.39 L1461.85 1063.43 L1463.84 1063.48 L1465.84 1063.52 L1467.84 1063.55 L1469.84 1063.59 L1471.84 1063.63 L1473.84 1063.67 L1475.84 1063.7 L1477.83 1063.74 L1479.83 1063.77 L1481.83 1063.81 L1483.83 1063.84 L1485.83 1063.87 L1487.83 1063.9 L1489.83 1063.93 L1491.82 1063.96 L1493.82 1063.99 L1495.82 1064.02 L1497.82 1064.04 L1499.82 1064.07 L1501.82 1064.09 L1503.82 1064.11 L1505.81 1064.14 L1507.81 1064.16 L1509.81 1064.18 L1511.81 1064.2 L1513.81 1064.21 L1515.81 1064.23 L1517.81 1064.25 L1519.8 1064.26 L1521.8 1064.27 L1523.8 1064.29 L1525.8 1064.3 L1527.8 1064.31 L1529.8 1064.31 L1531.8 1064.32 L1533.8 1064.33 L1535.8 1064.33 L1537.79 1064.33 L1539.79 1064.34 L1541.79 1064.34 L1543.79 1064.33 L1545.79 1064.33 L1547.79 1064.33 L1549.79 1064.32 L1551.79 1064.32 L1553.79 1064.31 L1555.78 1064.3 L1557.78 1064.29 L1559.78 1064.28 L1561.78 1064.26 L1563.78 1064.25 L1565.78 1064.23 L1567.78 1064.21 L1569.78 1064.19 L1571.78 1064.17 L1573.78 1064.14 L1575.77 1064.12 L1577.77 1064.09 L1579.77 1064.06 L1581.77 1064.03 L1583.77 1064 L1585.77 1063.97 L1587.77 1063.93 L1589.77 1063.9 L1591.77 1063.86 L1593.77 1063.82 L1595.77 1063.78 L1597.76 1063.73 L1599.76 1063.69 L1601.76 1063.64 L1603.76 1063.59 L1605.76 1063.54 L1607.76 1063.49 L1609.76 1063.43 L1611.76 1063.37 L1613.76 1063.32 L1615.76 1063.26 L1617.75 1063.19 L1619.75 1063.13 L1621.75 1063.07 L1623.75 1063 L1625.75 1062.93 L1627.75 1062.86 L1629.75 1062.78 L1631.74 1062.71 L1633.74 1062.63 L1635.74 1062.55 L1637.74 1062.47 L1639.74 1062.39 L1641.74 1062.3 L1643.73 1062.22 L1645.73 1062.13 L1647.73 1062.04 L1649.73 1061.94 L1651.72 1061.85 L1653.72 1061.75 L1655.72 1061.65 L1657.72 1061.55 L1659.71 1061.45 L1661.71 1061.35 L1663.71 1061.24 L1665.7 1061.13 L1667.7 1061.02 L1669.7 1060.9 L1671.69 1060.79 L1673.69 1060.67 L1675.68 1060.55 L1677.68 1060.43 L1679.67 1060.31 L1681.67 1060.18 L1683.67 1060.05 L1685.66 1059.92 L1687.66 1059.79 L1689.65 1059.65 L1691.64 1059.52 L1693.64 1059.38 L1695.63 1059.24 L1697.63 1059.09 L1699.62 1058.95 L1701.61 1058.8 L1703.61 1058.65 L1705.6 1058.5 L1707.59 1058.34 L1709.59 1058.18 L1711.58 1058.03 L1713.57 1057.86 L1715.56 1057.7 L1717.56 1057.53 L1719.55 1057.36 L1721.54 1057.19 L1723.53 1057.02 L1725.52 1056.84 L1727.51 1056.67 L1729.5 1056.49 L1731.49 1056.3 L1733.48 1056.12 L1735.47 1055.93 L1737.46 1055.74 L1739.45 1055.55 L1741.44 1055.35 L1743.43 1055.15 L1745.42 1054.96 L1747.4 1054.75 L1749.39 1054.55 L1751.38 1054.34 L1753.37 1054.13 L1755.35 1053.92 L1757.34 1053.7 L1759.32 1053.49 L1761.31 1053.27 L1763.3 1053.05 L1765.28 1052.82 L1767.27 1052.59 L1769.25 1052.36 L1771.24 1052.13 L1773.22 1051.9 L1775.2 1051.66 L1777.19 1051.42 L1779.17 1051.17 L1781.15 1050.93 L1783.13 1050.68 L1785.12 1050.43 L1787.1 1050.18 L1789.08 1049.92 L1791.06 1049.66 L1793.04 1049.4 L1795.02 1049.14 L1797 1048.87 L1798.98 1048.6 L1800.96 1048.33 L1802.94 1048.05 L1804.92 1047.78 L1806.89 1047.5 L1808.87 1047.21 L1810.85 1046.93 L1812.83 1046.64 L1814.8 1046.36 L1816.78 1046.06 L1818.76 1045.77 L1820.73 1045.48 L1822.71 1045.18 L1824.68 1044.89 L1826.66 1044.59 L1828.63 1044.29 L1830.61 1043.99 L1832.58 1043.68 L1834.56 1043.38 L1836.53 1043.07 L1838.51 1042.77 L1840.48 1042.46 L1842.46 1042.15 L1844.43 1041.85 L1846.41 1041.54 L1848.38 1041.23 L1850.36 1040.92 L1852.33 1040.61 L1854.3 1040.3 L1856.28 1039.99 L1858.25 1039.68 L1860.23 1039.37 L1862.2 1039.06 L1864.18 1038.75 L1866.15 1038.44 L1868.13 1038.13 L1870.1 1037.82 L1872.08 1037.52 L1874.05 1037.21 L1876.03 1036.9 L1878 1036.6 L1879.98 1036.29 L1881.95 1035.99 L1883.93 1035.69 L1885.9 1035.39 L1887.88 1035.09 L1889.86 1034.79 L1891.84 1034.49 L1893.81 1034.2 L1895.79 1033.91 L1897.77 1033.61 L1899.75 1033.32 L1901.73 1033.04 L1903.7 1032.75 L1905.68 1032.47 L1907.66 1032.19 L1909.64 1031.91 L1911.62 1031.63 L1913.61 1031.36 L1915.59 1031.09 L1917.57 1030.82 L1919.55 1030.56 L1921.53 1030.29 L1923.52 1030.04 L1925.5 1029.78 L1927.49 1029.53 L1929.47 1029.28 L1931.46 1029.03 L1933.44 1028.79 L1935.43 1028.55 L1937.42 1028.31 L1939.41 1028.08 L1941.39 1027.85 L1943.38 1027.63 L1945.37 1027.41 L1947.36 1027.19 L1949.35 1026.98 L1951.34 1026.77 L1953.34 1026.56 L1955.33 1026.36 L1957.32 1026.17 L1959.31 1025.97 L1961.31 1025.78 L1963.3 1025.6 L1965.3 1025.42 L1967.29 1025.24 L1969.29 1025.07 L1971.28 1024.9 L1973.28 1024.74 L1975.27 1024.58 L1977.27 1024.42 L1979.27 1024.27 L1981.26 1024.12 L1983.26 1023.98 L1985.26 1023.84 L1987.26 1023.71 L1989.25 1023.58 L1991.25 1023.46 L1993.25 1023.34 L1995.25 1023.22 L1997.25 1023.11 L1999.25 1023 L2001.25 1022.9 L2003.25 1022.81 L2005.25 1022.71 L2007.25 1022.63 L2009.25 1022.55 L2011.25 1022.47 L2013.25 1022.4 L2015.25 1022.33 L2017.25 1022.27 L2019.25 1022.21 L2021.25 1022.16 L2023.25 1022.11 L2025.24 1022.07 L2027.24 1022.03 L2029.24 1022 L2031.24 1021.97 L2033.24 1021.95 L2035.24 1021.93 L2037.24 1021.92 L2039.24 1021.91 L2041.24 1021.91 L2043.24 1021.92 L2045.24 1021.93 L2047.24 1021.94 L2049.24 1021.97 L2051.24 1021.99 L2053.23 1022.02 L2055.23 1022.06 L2057.23 1022.11 L2059.23 1022.15 L2061.22 1022.21 L2063.22 1022.27 L2065.22 1022.34 L2067.21 1022.41 L2069.21 1022.48 L2071.2 1022.57 L2073.2 1022.66 L2075.19 1022.75 L2077.19 1022.85 L2079.18 1022.96 L2081.18 1023.07 L2083.17 1023.19 L2085.16 1023.32 L2087.15 1023.45 L2089.14 1023.58 L2091.14 1023.73 L2093.13 1023.88 L2095.12 1024.03 L2097.11 1024.2 L2099.09 1024.36 L2101.08 1024.54 L2103.07 1024.72 L2105.06 1024.91 L2107.04 1025.1 L2109.03 1025.3 L2111.02 1025.51 L2113 1025.72 L2114.98 1025.94 L2116.97 1026.16 L2118.95 1026.4 L2120.93 1026.64 L2122.91 1026.88 L2124.89 1027.14 L2126.87 1027.4 L2128.85 1027.67 L2130.83 1027.94 L2132.8 1028.22 L2134.78 1028.52 L2136.75 1028.81 L2138.72 1029.12 L2140.7 1029.43 L2142.67 1029.75 L2144.64 1030.08 L2146.6 1030.42 L2148.57 1030.76 L2150.54 1031.12 L2152.5 1031.48 L2154.46 1031.85 L2156.42 1032.22 L2158.38 1032.61 L2160.34 1033.01 L2162.3 1033.41 L2164.25 1033.82 L2166.2 1034.24 L2168.16 1034.67 L2170.1 1035.11 L2172.05 1035.56 L2174 1036.02 L2175.94 1036.49 L2177.89 1036.96 L2179.83 1037.45 L2181.76 1037.94 L2183.7 1038.45 L2185.64 1038.96 L2187.57 1039.48 L2189.5 1040.01 L2191.43 1040.55 L2193.36 1041.1 L2195.28 1041.66 L2197.21 1042.22 L2199.13 1042.79 L2201.05 1043.37 L2202.97 1043.95 L2204.88 1044.55 L2206.8 1045.14 L2208.71 1045.75 L2210.62 1046.36 L2212.53 1046.98 L2214.44 1047.6 L2216.34 1048.23 L2218.25 1048.86 L2220.15 1049.5 L2222.05 1050.15 L2223.95 1050.8 L2225.84 1051.45 L2227.74 1052.11 L2229.63 1052.77 L2231.52 1053.44 L2233.41 1054.11 L2235.3 1054.79 L2237.18 1055.48 L2239.06 1056.17 L2240.93 1056.87 L2242.8 1057.58 L2244.67 1058.3 L2246.53 1059.03 L2248.39 1059.77 L2250.24 1060.51 L2252.08 1061.27 L2253.92 1062.04 L2255.76 1062.82 L2257.59 1063.61 L2259.41 1064.41 L2261.22 1065.23 L2263.03 1066.06 L2264.83 1066.9 L2266.62 1067.76 L2268.41 1068.63 L2270.18 1069.52 L2271.95 1070.42 L2273.71 1071.33 L2275.46 1072.27 L2277.2 1073.22 L2278.93 1074.19 L2280.65 1075.17 L2282.36 1076.18 L2284.06 1077.2 L2285.75 1078.24 L2287.43 1079.3 L2289.1 1080.38 L2290.75 1081.48 L2292.4 1082.6 L2294.03 1083.73 L2295.66 1084.88 L2297.27 1086.05 L2298.87 1087.23 L2300.46 1088.43 L2302.04 1089.65 L2303.61 1090.89 L2305.16 1092.14 L2306.71 1093.4 L2308.24 1094.68 L2309.77 1095.98 L2311.28 1097.29 L2312.78 1098.62 L2314.27 1099.96 L2315.75 1101.31 L2317.21 1102.68 L2318.67 1104.06 L2320.11 1105.46 L2321.54 1106.87 L2322.96 1108.29 L2324.37 1109.72 L2325.77 1111.17 L2327.15 1112.63 L2328.53 1114.1 L2329.89 1115.58 L2331.24 1117.08 L2332.57 1118.58 L2333.9 1120.1 L2335.21 1121.62 L2336.51 1123.16 L2337.8 1124.71 L2339.06 1126.27 L2340.32 1127.85 L2341.55 1129.43 L2342.77 1131.03 L2343.97 1132.63 L2345.15 1134.25 L2346.31 1135.89 L2347.45 1137.53 L2348.56 1139.19 L2349.65 1140.85 L2350.72 1142.54 L2351.77 1144.23 L2352.78 1145.94 L2353.78 1147.66 L2354.74 1149.39 L2355.68 1151.14 L2356.58 1152.89 L2357.46 1154.67 L2358.31 1156.45 L2359.12 1158.25 L2359.91 1160.07 L2360.66 1161.89 L2361.37 1163.74 L2362.06 1165.59 L2362.7 1167.46 L2363.31 1169.35 L2363.88 1171.24 L2364.41 1173.16 L2364.91 1175.08 L2365.36 1177.03 L2365.78 1178.98 L2366.15 1180.96 L2366.48 1182.94 L2366.76 1184.95 L2367 1186.97 L2367.2 1189" stroke="#e60012"/>
<path d="M1232 661.8 L1233.99 661.72 L1235.99 661.64 L1237.98 661.56 L1239.97 661.47 L1241.96 661.39 L1243.96 661.3 L1245.95 661.21 L1247.94 661.12 L1249.94 661.02 L1251.93 660.93 L1253.93 660.83 L1255.92 660.73 L1257.91 660.63 L1259.91 660.53 L1261.9 660.43 L1263.9 660.32 L1265.89 660.21 L1267.89 660.11 L1269.88 659.99 L1271.88 659.88 L1273.87 659.77 L1275.87 659.65 L1277.86 659.53 L1279.86 659.41 L1281.85 659.29 L1283.85 659.17 L1285.84 659.04 L1287.84 658.91 L1289.83 658.78 L1291.83 658.65 L1293.82 658.52 L1295.82 658.38 L1297.81 658.24 L1299.81 658.11 L1301.8 657.96 L1303.8 657.82 L1305.79 657.68 L1307.79 657.53 L1309.78 657.38 L1311.78 657.23 L1313.77 657.08 L1315.77 656.92 L1317.76 656.76 L1319.76 656.61 L1321.75 656.45 L1323.75 656.28 L1325.74 656.12 L1327.74 655.95 L1329.73 655.78 L1331.72 655.61 L1333.72 655.44 L1335.71 655.26 L1337.71 655.09 L1339.7 654.91 L1341.69 654.73 L1343.68 654.54 L1345.68 654.36 L1347.67 654.17 L1349.66 653.98 L1351.66 653.79 L1353.65 653.6 L1355.64 653.4 L1357.63 653.2 L1359.62 653 L1361.61 652.8 L1363.61 652.6 L1365.6 652.39 L1367.59 652.18 L1369.58 651.97 L1371.57 651.76 L1373.56 651.54 L1375.55 651.33 L1377.54 651.11 L1379.53 650.89 L1381.52 650.66 L1383.5 650.44 L1385.49 650.21 L1387.48 649.98 L1389.47 649.74 L1391.46 649.51 L1393.44 649.27 L1395.43 649.03 L1397.42 648.79 L1399.4 648.55 L1401.39 648.3 L1403.37 648.05 L1405.36 647.8 L1407.34 647.55 L1409.33 647.29 L1411.31 647.04 L1413.29 646.78 L1415.28 646.51 L1417.26 646.25 L1419.24 645.98 L1421.22 645.71 L1423.2 645.44 L1425.19 645.17 L1427.17 644.89 L1429.15 644.61 L1431.13 644.33 L1433.11 644.05 L1435.08 643.76 L1437.06 643.48 L1439.04 643.19 L1441.02 642.89 L1443 642.6 L1444.97 642.3 L1446.95 642 L1448.92 641.7 L1450.9 641.39 L1452.87 641.08 L1454.85 640.77 L1456.82 640.46 L1458.79 640.15 L1460.76 639.83 L1462.74 639.51 L1464.71 639.19 L1466.68 638.86 L1468.65 638.54 L1470.62 638.21 L1472.59 637.87 L1474.56 637.54 L1476.52 637.2 L1478.49 636.86 L1480.46 636.52 L1482.42 636.17 L1484.39 635.83 L1486.35 635.48 L1488.32 635.13 L1490.28 634.77 L1492.25 634.41 L1494.21 634.06 L1496.17 633.7 L1498.13 633.33 L1500.09 632.97 L1502.06 632.6 L1504.02 632.23 L1505.98 631.86 L1507.94 631.49 L1509.9 631.11 L1511.86 630.73 L1513.81 630.35 L1515.77 629.97 L1517.73 629.59 L1519.69 629.21 L1521.65 628.82 L1523.6 628.43 L1525.56 628.04 L1527.52 627.65 L1529.47 627.26 L1531.43 626.86 L1533.38 626.47 L1535.34 626.07 L1537.29 625.67 L1539.25 625.27 L1541.2 624.87 L1543.16 624.47 L1545.11 624.06 L1547.07 623.65 L1549.02 623.25 L1550.98 622.84 L1552.93 622.43 L1554.88 622.02 L1556.84 621.61 L1558.79 621.19 L1560.74 620.78 L1562.7 620.36 L1564.65 619.95 L1566.6 619.53 L1568.56 619.11 L1570.51 618.69 L1572.46 618.27 L1574.42 617.85 L1576.37 617.43 L1578.32 617.01 L1580.28 616.59 L1582.23 616.16 L1584.18 615.74 L1586.14 615.31 L1588.09 614.89 L1590.04 614.46 L1592 614.04 L1593.95 613.61 L1595.9 613.18 L1597.86 612.75 L1599.81 612.33 L1601.77 611.9 L1603.72 611.47 L1605.67 611.04 L1607.63 610.61 L1609.58 610.18 L1611.54 609.75 L1613.5 609.32 L1615.45 608.89 L1617.41 608.46 L1619.36 608.03 L1621.32 607.6 L1623.28 607.17 L1625.23 606.74 L1627.19 606.31 L1629.15 605.88 L1631.11 605.45 L1633.07 605.02 L1635.02 604.59 L1636.98 604.16 L1638.94 603.73 L1640.9 603.31 L1642.86 602.88 L1644.82 602.46 L1646.79 602.03 L1648.75 601.61 L1650.71 601.19 L1652.67 600.78 L1654.63 600.36 L1656.6 599.95 L1658.56 599.54 L1660.53 599.13 L1662.49 598.72 L1664.46 598.32 L1666.42 597.92 L1668.39 597.53 L1670.36 597.13 L1672.32 596.74 L1674.29 596.36 L1676.26 595.98 L1678.23 595.6 L1680.2 595.23 L1682.17 594.86 L1684.14 594.5 L1686.11 594.14 L1688.08 593.78 L1690.05 593.43 L1692.03 593.09 L1694 592.75 L1695.98 592.42 L1697.95 592.09 L1699.93 591.77 L1701.9 591.46 L1703.88 591.15 L1705.86 590.85 L1707.84 590.55 L1709.82 590.26 L1711.8 589.98 L1713.78 589.71 L1715.76 589.44 L1717.74 589.18 L1719.72 588.93 L1721.71 588.68 L1723.69 588.45 L1725.68 588.22 L1727.66 588 L1729.65 587.78 L1731.64 587.58 L1733.62 587.38 L1735.61 587.19 L1737.6 587.01 L1739.59 586.83 L1741.58 586.66 L1743.57 586.5 L1745.56 586.35 L1747.55 586.21 L1749.55 586.07 L1751.54 585.94 L1753.53 585.82 L1755.52 585.71 L1757.52 585.6 L1759.51 585.51 L1761.5 585.42 L1763.5 585.33 L1765.49 585.26 L1767.49 585.19 L1769.48 585.13 L1771.48 585.08 L1773.47 585.03 L1775.47 584.99 L1777.46 584.96 L1779.46 584.94 L1781.46 584.93 L1783.45 584.92 L1785.45 584.92 L1787.44 584.93 L1789.44 584.94 L1791.43 584.96 L1793.43 584.99 L1795.42 585.03 L1797.42 585.07 L1799.41 585.13 L1801.41 585.18 L1803.4 585.25 L1805.4 585.33 L1807.39 585.41 L1809.39 585.5 L1811.38 585.59 L1813.37 585.7 L1815.37 585.81 L1817.36 585.92 L1819.35 586.05 L1821.34 586.18 L1823.33 586.32 L1825.32 586.47 L1827.32 586.62 L1829.31 586.79 L1831.29 586.96 L1833.28 587.13 L1835.27 587.32 L1837.26 587.51 L1839.25 587.7 L1841.23 587.91 L1843.22 588.12 L1845.2 588.34 L1847.19 588.57 L1849.17 588.8 L1851.15 589.04 L1853.13 589.29 L1855.12 589.55 L1857.1 589.81 L1859.07 590.08 L1861.05 590.35 L1863.03 590.64 L1865.01 590.93 L1866.98 591.23 L1868.96 591.53 L1870.93 591.84 L1872.9 592.16 L1874.87 592.49 L1876.84 592.82 L1878.81 593.16 L1880.78 593.51 L1882.75 593.86 L1884.71 594.22 L1886.68 594.59 L1888.64 594.96 L1890.6 595.35 L1892.57 595.73 L1894.52 596.13 L1896.48 596.53 L1898.44 596.94 L1900.39 597.36 L1902.35 597.78 L1904.3 598.21 L1906.25 598.65 L1908.2 599.09 L1910.15 599.54 L1912.1 600 L1914.04 600.46 L1915.99 600.93 L1917.93 601.41 L1919.87 601.9 L1921.81 602.39 L1923.74 602.89 L1925.68 603.39 L1927.61 603.9 L1929.55 604.42 L1931.48 604.95 L1933.4 605.48 L1935.33 606.02 L1937.26 606.56 L1939.18 607.11 L1941.1 607.67 L1943.02 608.24 L1944.94 608.81 L1946.85 609.39 L1948.77 609.97 L1950.68 610.56 L1952.59 611.16 L1954.49 611.77 L1956.4 612.38 L1958.3 613 L1960.2 613.62 L1962.1 614.25 L1964 614.89 L1965.89 615.53 L1967.79 616.19 L1969.68 616.84 L1971.57 617.51 L1973.45 618.18 L1975.33 618.85 L1977.22 619.54 L1979.09 620.23 L1980.97 620.92 L1982.85 621.63 L1984.72 622.34 L1986.59 623.05 L1988.45 623.77 L1990.32 624.5 L1992.18 625.24 L1994.04 625.98 L1995.89 626.72 L1997.75 627.48 L1999.6 628.24 L2001.45 629.01 L2003.29 629.78 L2005.14 630.56 L2006.98 631.34 L2008.82 632.14 L2010.65 632.93 L2012.49 633.74 L2014.31 634.55 L2016.14 635.37 L2017.97 636.19 L2019.79 637.02 L2021.61 637.85 L2023.42 638.7 L2025.23 639.55 L2027.04 640.4 L2028.85 641.26 L2030.65 642.13 L2032.45 643 L2034.25 643.88 L2036.04 644.76 L2037.84 645.66 L2039.62 646.55 L2041.41 647.46 L2043.19 648.37 L2044.97 649.28 L2046.74 650.2 L2048.52 651.13 L2050.29 652.07 L2052.05 653.01 L2053.81 653.95 L2055.57 654.91 L2057.33 655.86 L2059.08 656.83 L2060.83 657.8 L2062.57 658.78 L2064.32 659.76 L2066.05 660.75 L2067.79 661.74 L2069.52 662.74 L2071.25 663.75 L2072.97 664.76 L2074.69 665.78 L2076.41 666.8 L2078.12 667.83 L2079.83 668.87 L2081.54 669.91 L2083.24 670.96 L2084.94 672.01 L2086.63 673.07 L2088.32 674.13 L2090.01 675.21 L2091.69 676.28 L2093.37 677.36 L2095.05 678.45 L2096.72 679.55 L2098.39 680.65 L2100.05 681.75 L2101.71 682.86 L2103.37 683.98 L2105.02 685.11 L2106.67 686.23 L2108.31 687.37 L2109.95 688.51 L2111.58 689.66 L2113.21 690.81 L2114.84 691.97 L2116.46 693.13 L2118.08 694.3 L2119.69 695.48 L2121.3 696.66 L2122.91 697.84 L2124.51 699.04 L2126.1 700.24 L2127.69 701.44 L2129.28 702.65 L2130.86 703.87 L2132.44 705.09 L2134.01 706.32 L2135.58 707.55 L2137.14 708.79 L2138.7 710.04 L2140.26 711.29 L2141.81 712.54 L2143.35 713.81 L2144.89 715.07 L2146.42 716.35 L2147.95 717.63 L2149.48 718.92 L2151 720.21 L2152.51 721.51 L2154.02 722.81 L2155.53 724.12 L2157.03 725.43 L2158.52 726.76 L2160.01 728.08 L2161.49 729.42 L2162.97 730.75 L2164.44 732.1 L2165.91 733.45 L2167.38 734.81 L2168.83 736.17 L2170.28 737.54 L2171.73 738.91 L2173.17 740.29 L2174.61 741.67 L2176.04 743.07 L2177.46 744.46 L2178.88 745.87 L2180.3 747.27 L2181.71 748.69 L2183.11 750.11 L2184.51 751.53 L2185.9 752.96 L2187.29 754.39 L2188.67 755.83 L2190.05 757.28 L2191.42 758.73 L2192.79 760.18 L2194.15 761.64 L2195.51 763.11 L2196.86 764.58 L2198.2 766.05 L2199.55 767.53 L2200.88 769.01 L2202.21 770.5 L2203.54 771.99 L2204.86 773.49 L2206.18 774.99 L2207.49 776.5 L2208.8 778.01 L2210.1 779.52 L2211.4 781.04 L2212.69 782.56 L2213.98 784.09 L2215.26 785.62 L2216.54 787.15 L2217.81 788.69 L2219.08 790.23 L2220.34 791.78 L2221.59 793.33 L2222.85 794.89 L2224.09 796.45 L2225.33 798.01 L2226.57 799.58 L2227.8 801.15 L2229.02 802.72 L2230.24 804.3 L2231.46 805.89 L2232.66 807.48 L2233.87 809.07 L2235.06 810.66 L2236.25 812.26 L2237.44 813.87 L2238.62 815.47 L2239.79 817.09 L2240.96 818.7 L2242.12 820.32 L2243.28 821.95 L2244.43 823.57 L2245.58 825.21 L2246.71 826.84 L2247.85 828.48 L2248.97 830.12 L2250.09 831.77 L2251.21 833.42 L2252.32 835.08 L2253.42 836.74 L2254.51 838.4 L2255.6 840.07 L2256.69 841.74 L2257.76 843.41 L2258.83 845.09 L2259.9 846.78 L2260.96 848.46 L2262.01 850.15 L2263.06 851.85 L2264.1 853.54 L2265.13 855.25 L2266.16 856.95 L2267.18 858.66 L2268.2 860.37 L2269.21 862.09 L2270.22 863.8 L2271.22 865.53 L2272.21 867.25 L2273.2 868.98 L2274.18 870.71 L2275.16 872.45 L2276.14 874.19 L2277.11 875.93 L2278.07 877.67 L2279.03 879.42 L2279.98 881.17 L2280.93 882.93 L2281.87 884.69 L2282.81 886.45 L2283.74 888.21 L2284.67 889.98 L2285.6 891.75 L2286.52 893.52 L2287.43 895.29 L2288.34 897.07 L2289.25 898.85 L2290.15 900.64 L2291.04 902.42 L2291.94 904.21 L2292.83 906 L2293.71 907.79 L2294.59 909.59 L2295.46 911.39 L2296.33 913.19 L2297.2 914.99 L2298.06 916.8 L2298.92 918.61 L2299.77 920.42 L2300.62 922.23 L2301.47 924.05 L2302.31 925.86 L2303.15 927.68 L2303.98 929.51 L2304.81 931.33 L2305.63 933.15 L2306.46 934.98 L2307.27 936.81 L2308.08 938.64 L2308.89 940.48 L2309.7 942.31 L2310.5 944.15 L2311.3 945.99 L2312.09 947.83 L2312.88 949.67 L2313.67 951.51 L2314.45 953.36 L2315.23 955.2 L2316 957.05 L2316.77 958.9 L2317.54 960.75 L2318.3 962.61 L2319.06 964.46 L2319.82 966.31 L2320.57 968.17 L2321.32 970.03 L2322.06 971.89 L2322.81 973.75 L2323.54 975.61 L2324.28 977.47 L2325.01 979.34 L2325.74 981.2 L2326.46 983.07 L2327.18 984.93 L2327.9 986.8 L2328.61 988.67 L2329.31 990.54 L2330.02 992.41 L2330.71 994.29 L2331.41 996.16 L2332.09 998.04 L2332.78 999.92 L2333.45 1001.8 L2334.12 1003.68 L2334.79 1005.56 L2335.45 1007.44 L2336.1 1009.33 L2336.75 1011.22 L2337.39 1013.11 L2338.03 1015 L2338.66 1016.89 L2339.28 1018.78 L2339.9 1020.68 L2340.51 1022.58 L2341.11 1024.48 L2341.7 1026.38 L2342.29 1028.29 L2342.87 1030.19 L2343.44 1032.1 L2344.01 1034.01 L2344.56 1035.92 L2345.11 1037.84 L2345.65 1039.75 L2346.19 1041.67 L2346.71 1043.59 L2347.23 1045.52 L2347.73 1047.44 L2348.24 1049.37 L2348.73 1051.3 L2349.21 1053.23 L2349.69 1055.16 L2350.16 1057.1 L2350.62 1059.04 L2351.08 1060.97 L2351.53 1062.92 L2351.97 1064.86 L2352.41 1066.8 L2352.84 1068.75 L2353.26 1070.7 L2353.68 1072.64 L2354.09 1074.6 L2354.5 1076.55 L2354.9 1078.5 L2355.3 1080.46 L2355.69 1082.41 L2356.07 1084.37 L2356.45 1086.33 L2356.83 1088.29 L2357.2 1090.25 L2357.56 1092.21 L2357.93 1094.18 L2358.28 1096.14 L2358.64 1098.11 L2358.98 1100.08 L2359.33 1102.04 L2359.67 1104.01 L2360.01 1105.98 L2360.34 1107.95 L2360.68 1109.93 L2361 1111.9 L2361.33 1113.87 L2361.65 1115.84 L2361.97 1117.82 L2362.29 1119.79 L2362.61 1121.77 L2362.92 1123.75 L2363.23 1125.72 L2363.54 1127.7 L2363.85 1129.68 L2364.15 1131.66 L2364.46 1133.63 L2364.76 1135.61 L2365.06 1137.59 L2365.36 1139.57 L2365.66 1141.55 L2365.96 1143.53 L2366.26 1145.51 L2366.56 1147.49 L2366.86 1149.47 L2367.16 1151.45 L2367.45 1153.43 L2367.75 1155.41 L2368.05 1157.39 L2368.35 1159.36 L2368.65 1161.34 L2368.95 1163.32 L2369.25 1165.3 L2369.56 1167.28 L2369.86 1169.26 L2370.16 1171.23 L2370.47 1173.21 L2370.78 1175.19 L2371.09 1177.16 L2371.4 1179.14 L2371.72 1181.11 L2372.03 1183.08 L2372.35 1185.06 L2372.67 1187.03 L2373 1189" stroke="#1d2088"/>
<path d="M1232 400.5 L1234 400.46 L1236.01 400.42 L1238.01 400.38 L1240.01 400.33 L1242.01 400.28 L1244.02 400.23 L1246.02 400.17 L1248.02 400.11 L1250.02 400.05 L1252.02 399.98 L1254.02 399.92 L1256.02 399.84 L1258.02 399.77 L1260.02 399.69 L1262.02 399.62 L1264.02 399.53 L1266.02 399.45 L1268.02 399.36 L1270.02 399.27 L1272.01 399.18 L1274.01 399.08 L1276.01 398.99 L1278.01 398.89 L1280 398.78 L1282 398.68 L1284 398.57 L1285.99 398.46 L1287.99 398.35 L1289.98 398.23 L1291.98 398.11 L1293.97 397.99 L1295.97 397.87 L1297.96 397.74 L1299.96 397.61 L1301.95 397.48 L1303.95 397.35 L1305.94 397.22 L1307.93 397.08 L1309.93 396.94 L1311.92 396.8 L1313.91 396.66 L1315.9 396.51 L1317.9 396.36 L1319.89 396.21 L1321.88 396.06 L1323.87 395.91 L1325.86 395.75 L1327.85 395.59 L1329.84 395.43 L1331.84 395.27 L1333.83 395.1 L1335.82 394.94 L1337.81 394.77 L1339.8 394.6 L1341.79 394.43 L1343.78 394.25 L1345.76 394.08 L1347.75 393.9 L1349.74 393.72 L1351.73 393.54 L1353.72 393.35 L1355.71 393.17 L1357.7 392.98 L1359.68 392.8 L1361.67 392.61 L1363.66 392.41 L1365.65 392.22 L1367.63 392.03 L1369.62 391.83 L1371.61 391.63 L1373.59 391.43 L1375.58 391.23 L1377.57 391.03 L1379.55 390.82 L1381.54 390.62 L1383.53 390.41 L1385.51 390.2 L1387.5 389.99 L1389.48 389.78 L1391.47 389.57 L1393.45 389.36 L1395.44 389.14 L1397.42 388.93 L1399.41 388.71 L1401.39 388.49 L1403.37 388.27 L1405.36 388.05 L1407.34 387.83 L1409.33 387.6 L1411.31 387.38 L1413.29 387.15 L1415.28 386.93 L1417.26 386.7 L1419.24 386.47 L1421.23 386.24 L1423.21 386.01 L1425.19 385.78 L1427.18 385.55 L1429.16 385.31 L1431.14 385.08 L1433.12 384.84 L1435.11 384.61 L1437.09 384.37 L1439.07 384.13 L1441.05 383.89 L1443.03 383.65 L1445.02 383.41 L1447 383.17 L1448.98 382.93 L1450.96 382.69 L1452.94 382.45 L1454.92 382.2 L1456.91 381.96 L1458.89 381.72 L1460.87 381.47 L1462.85 381.22 L1464.83 380.98 L1466.81 380.73 L1468.79 380.48 L1470.77 380.24 L1472.75 379.99 L1474.73 379.74 L1476.71 379.49 L1478.69 379.24 L1480.67 378.99 L1482.65 378.74 L1484.64 378.49 L1486.62 378.24 L1488.6 377.99 L1490.58 377.74 L1492.56 377.49 L1494.54 377.24 L1496.52 376.99 L1498.5 376.74 L1500.48 376.48 L1502.46 376.23 L1504.43 375.98 L1506.41 375.73 L1508.39 375.48 L1510.37 375.23 L1512.35 374.97 L1514.33 374.72 L1516.31 374.47 L1518.29 374.22 L1520.27 373.97 L1522.25 373.72 L1524.23 373.47 L1526.21 373.22 L1528.19 372.98 L1530.17 372.73 L1532.15 372.48 L1534.13 372.24 L1536.11 372 L1538.1 371.76 L1540.08 371.52 L1542.06 371.28 L1544.04 371.04 L1546.02 370.81 L1548 370.57 L1549.99 370.34 L1551.97 370.11 L1553.95 369.88 L1555.94 369.66 L1557.92 369.43 L1559.9 369.21 L1561.89 369 L1563.87 368.78 L1565.86 368.57 L1567.85 368.36 L1569.83 368.15 L1571.82 367.94 L1573.81 367.74 L1575.79 367.54 L1577.78 367.35 L1579.77 367.16 L1581.76 366.97 L1583.75 366.78 L1585.74 366.6 L1587.73 366.42 L1589.72 366.25 L1591.72 366.07 L1593.71 365.91 L1595.7 365.74 L1597.7 365.59 L1599.69 365.43 L1601.69 365.28 L1603.69 365.13 L1605.68 364.99 L1607.68 364.86 L1609.68 364.72 L1611.68 364.59 L1613.68 364.47 L1615.68 364.35 L1617.68 364.23 L1619.68 364.12 L1621.68 364.02 L1623.68 363.92 L1625.68 363.82 L1627.69 363.73 L1629.69 363.64 L1631.69 363.56 L1633.7 363.49 L1635.7 363.41 L1637.7 363.35 L1639.71 363.29 L1641.71 363.23 L1643.72 363.18 L1645.72 363.13 L1647.73 363.09 L1649.73 363.06 L1651.74 363.03 L1653.74 363 L1655.75 362.98 L1657.75 362.97 L1659.76 362.96 L1661.76 362.95 L1663.76 362.96 L1665.77 362.97 L1667.77 362.98 L1669.78 363 L1671.78 363.02 L1673.78 363.05 L1675.79 363.09 L1677.79 363.13 L1679.79 363.18 L1681.8 363.23 L1683.8 363.29 L1685.8 363.36 L1687.8 363.43 L1689.8 363.51 L1691.8 363.6 L1693.8 363.69 L1695.8 363.78 L1697.8 363.89 L1699.8 364 L1701.79 364.11 L1703.79 364.23 L1705.78 364.36 L1707.78 364.5 L1709.77 364.64 L1711.77 364.79 L1713.76 364.94 L1715.75 365.1 L1717.74 365.27 L1719.73 365.45 L1721.72 365.63 L1723.71 365.82 L1725.7 366.01 L1727.69 366.21 L1729.67 366.42 L1731.66 366.64 L1733.64 366.86 L1735.62 367.09 L1737.6 367.33 L1739.58 367.57 L1741.56 367.82 L1743.54 368.08 L1745.52 368.35 L1747.49 368.62 L1749.47 368.9 L1751.44 369.19 L1753.41 369.48 L1755.38 369.78 L1757.35 370.09 L1759.32 370.41 L1761.28 370.73 L1763.25 371.07 L1765.21 371.4 L1767.17 371.75 L1769.13 372.1 L1771.09 372.46 L1773.05 372.83 L1775 373.2 L1776.96 373.59 L1778.91 373.97 L1780.86 374.37 L1782.81 374.77 L1784.76 375.18 L1786.71 375.6 L1788.66 376.02 L1790.6 376.45 L1792.54 376.89 L1794.48 377.33 L1796.42 377.78 L1798.36 378.24 L1800.3 378.7 L1802.23 379.18 L1804.16 379.65 L1806.09 380.14 L1808.02 380.63 L1809.95 381.13 L1811.88 381.63 L1813.8 382.15 L1815.72 382.67 L1817.65 383.19 L1819.56 383.72 L1821.48 384.26 L1823.4 384.81 L1825.31 385.36 L1827.22 385.92 L1829.13 386.48 L1831.04 387.05 L1832.95 387.63 L1834.85 388.22 L1836.75 388.81 L1838.65 389.41 L1840.55 390.01 L1842.45 390.62 L1844.35 391.24 L1846.24 391.86 L1848.13 392.49 L1850.02 393.13 L1851.9 393.77 L1853.79 394.42 L1855.67 395.07 L1857.55 395.73 L1859.43 396.4 L1861.31 397.07 L1863.18 397.75 L1865.06 398.44 L1866.93 399.13 L1868.8 399.83 L1870.66 400.54 L1872.53 401.25 L1874.39 401.96 L1876.25 402.69 L1878.11 403.41 L1879.96 404.15 L1881.81 404.89 L1883.66 405.64 L1885.51 406.39 L1887.36 407.15 L1889.2 407.92 L1891.05 408.69 L1892.89 409.46 L1894.72 410.25 L1896.56 411.03 L1898.39 411.83 L1900.22 412.63 L1902.05 413.44 L1903.87 414.25 L1905.7 415.07 L1907.52 415.89 L1909.34 416.72 L1911.15 417.55 L1912.97 418.39 L1914.78 419.24 L1916.59 420.09 L1918.39 420.95 L1920.2 421.81 L1922 422.68 L1923.79 423.56 L1925.59 424.44 L1927.38 425.32 L1929.17 426.21 L1930.96 427.11 L1932.75 428.01 L1934.53 428.92 L1936.31 429.83 L1938.09 430.75 L1939.87 431.68 L1941.64 432.6 L1943.41 433.54 L1945.18 434.48 L1946.94 435.42 L1948.7 436.38 L1950.46 437.33 L1952.22 438.29 L1953.97 439.26 L1955.72 440.23 L1957.47 441.21 L1959.21 442.19 L1960.96 443.18 L1962.7 444.17 L1964.43 445.17 L1966.17 446.17 L1967.9 447.18 L1969.63 448.19 L1971.35 449.21 L1973.07 450.24 L1974.79 451.26 L1976.51 452.3 L1978.22 453.34 L1979.93 454.38 L1981.64 455.43 L1983.34 456.48 L1985.05 457.54 L1986.74 458.6 L1988.44 459.67 L1990.13 460.74 L1991.82 461.82 L1993.51 462.9 L1995.19 463.99 L1996.87 465.08 L1998.55 466.18 L2000.22 467.28 L2001.89 468.39 L2003.56 469.5 L2005.23 470.61 L2006.89 471.73 L2008.55 472.86 L2010.2 473.99 L2011.85 475.12 L2013.5 476.26 L2015.15 477.41 L2016.79 478.56 L2018.43 479.71 L2020.06 480.87 L2021.69 482.03 L2023.32 483.19 L2024.95 484.36 L2026.57 485.54 L2028.19 486.72 L2029.8 487.9 L2031.42 489.09 L2033.03 490.28 L2034.63 491.48 L2036.23 492.68 L2037.83 493.89 L2039.43 495.1 L2041.02 496.31 L2042.6 497.53 L2044.19 498.75 L2045.77 499.98 L2047.35 501.21 L2048.92 502.45 L2050.49 503.69 L2052.06 504.93 L2053.62 506.18 L2055.18 507.43 L2056.74 508.69 L2058.29 509.95 L2059.84 511.21 L2061.38 512.48 L2062.93 513.75 L2064.46 515.03 L2066 516.31 L2067.53 517.59 L2069.06 518.88 L2070.58 520.17 L2072.1 521.47 L2073.61 522.77 L2075.13 524.07 L2076.64 525.38 L2078.14 526.69 L2079.64 528.01 L2081.14 529.33 L2082.63 530.65 L2084.12 531.98 L2085.61 533.31 L2087.09 534.65 L2088.57 535.98 L2090.05 537.33 L2091.52 538.67 L2092.99 540.02 L2094.46 541.38 L2095.92 542.74 L2097.37 544.1 L2098.83 545.46 L2100.28 546.83 L2101.73 548.21 L2103.17 549.58 L2104.61 550.96 L2106.04 552.35 L2107.48 553.74 L2108.9 555.13 L2110.33 556.52 L2111.75 557.92 L2113.17 559.33 L2114.58 560.73 L2115.99 562.14 L2117.4 563.56 L2118.8 564.97 L2120.2 566.39 L2121.59 567.82 L2122.98 569.25 L2124.37 570.68 L2125.75 572.11 L2127.13 573.55 L2128.51 575 L2129.88 576.44 L2131.25 577.9 L2132.61 579.35 L2133.97 580.81 L2135.33 582.27 L2136.68 583.74 L2138.03 585.2 L2139.37 586.68 L2140.71 588.15 L2142.04 589.64 L2143.37 591.12 L2144.7 592.61 L2146.02 594.1 L2147.34 595.6 L2148.65 597.1 L2149.96 598.6 L2151.26 600.11 L2152.56 601.62 L2153.86 603.13 L2155.15 604.65 L2156.44 606.18 L2157.72 607.7 L2159 609.23 L2160.27 610.76 L2161.54 612.3 L2162.8 613.84 L2164.06 615.39 L2165.32 616.94 L2166.57 618.49 L2167.82 620.04 L2169.06 621.6 L2170.3 623.17 L2171.53 624.73 L2172.76 626.3 L2173.98 627.88 L2175.2 629.45 L2176.42 631.03 L2177.63 632.62 L2178.83 634.21 L2180.03 635.8 L2181.23 637.39 L2182.42 638.99 L2183.61 640.59 L2184.79 642.2 L2185.97 643.81 L2187.14 645.42 L2188.31 647.03 L2189.47 648.65 L2190.63 650.28 L2191.79 651.9 L2192.93 653.53 L2194.08 655.17 L2195.22 656.8 L2196.35 658.44 L2197.49 660.08 L2198.61 661.73 L2199.73 663.38 L2200.85 665.03 L2201.96 666.69 L2203.07 668.35 L2204.17 670.01 L2205.27 671.68 L2206.36 673.35 L2207.45 675.02 L2208.54 676.7 L2209.62 678.37 L2210.69 680.05 L2211.76 681.74 L2212.83 683.43 L2213.89 685.12 L2214.95 686.81 L2216.01 688.51 L2217.06 690.2 L2218.1 691.91 L2219.14 693.61 L2220.18 695.32 L2221.21 697.03 L2222.24 698.74 L2223.27 700.45 L2224.29 702.17 L2225.3 703.89 L2226.32 705.61 L2227.33 707.34 L2228.33 709.07 L2229.33 710.8 L2230.33 712.53 L2231.32 714.27 L2232.31 716 L2233.29 717.74 L2234.28 719.49 L2235.25 721.23 L2236.23 722.98 L2237.2 724.73 L2238.16 726.48 L2239.13 728.23 L2240.09 729.99 L2241.04 731.75 L2241.99 733.51 L2242.94 735.27 L2243.89 737.03 L2244.83 738.8 L2245.77 740.57 L2246.7 742.34 L2247.63 744.11 L2248.56 745.88 L2249.48 747.66 L2250.4 749.44 L2251.32 751.22 L2252.24 753 L2253.15 754.78 L2254.05 756.56 L2254.96 758.35 L2255.86 760.14 L2256.76 761.93 L2257.65 763.72 L2258.55 765.51 L2259.43 767.31 L2260.32 769.1 L2261.2 770.9 L2262.08 772.7 L2262.96 774.5 L2263.83 776.3 L2264.7 778.1 L2265.57 779.91 L2266.44 781.71 L2267.3 783.52 L2268.16 785.32 L2269.01 787.13 L2269.87 788.94 L2270.72 790.76 L2271.57 792.57 L2272.41 794.38 L2273.26 796.2 L2274.1 798.01 L2274.93 799.83 L2275.77 801.65 L2276.6 803.47 L2277.43 805.29 L2278.26 807.11 L2279.08 808.93 L2279.9 810.75 L2280.72 812.58 L2281.54 814.4 L2282.35 816.23 L2283.16 818.06 L2283.96 819.89 L2284.76 821.72 L2285.56 823.55 L2286.36 825.38 L2287.15 827.21 L2287.94 829.05 L2288.73 830.89 L2289.51 832.72 L2290.29 834.56 L2291.07 836.4 L2291.84 838.24 L2292.61 840.09 L2293.37 841.93 L2294.14 843.78 L2294.89 845.62 L2295.65 847.47 L2296.4 849.32 L2297.15 851.17 L2297.89 853.02 L2298.63 854.87 L2299.36 856.73 L2300.1 858.59 L2300.82 860.44 L2301.55 862.3 L2302.27 864.16 L2302.98 866.02 L2303.69 867.89 L2304.4 869.75 L2305.11 871.62 L2305.8 873.48 L2306.5 875.35 L2307.19 877.22 L2307.88 879.1 L2308.56 880.97 L2309.24 882.84 L2309.91 884.72 L2310.58 886.6 L2311.24 888.48 L2311.9 890.36 L2312.55 892.24 L2313.21 894.13 L2313.85 896.01 L2314.49 897.9 L2315.13 899.79 L2315.76 901.68 L2316.39 903.57 L2317.01 905.46 L2317.63 907.36 L2318.24 909.26 L2318.85 911.15 L2319.45 913.05 L2320.06 914.95 L2320.65 916.86 L2321.24 918.76 L2321.83 920.67 L2322.41 922.57 L2322.99 924.48 L2323.57 926.39 L2324.14 928.3 L2324.7 930.21 L2325.26 932.13 L2325.82 934.04 L2326.38 935.96 L2326.93 937.87 L2327.47 939.79 L2328.01 941.71 L2328.55 943.63 L2329.08 945.55 L2329.61 947.48 L2330.14 949.4 L2330.66 951.33 L2331.18 953.26 L2331.7 955.18 L2332.21 957.11 L2332.71 959.04 L2333.22 960.97 L2333.72 962.91 L2334.21 964.84 L2334.7 966.77 L2335.19 968.71 L2335.68 970.65 L2336.16 972.58 L2336.64 974.52 L2337.11 976.46 L2337.58 978.4 L2338.05 980.34 L2338.52 982.29 L2338.98 984.23 L2339.44 986.17 L2339.89 988.12 L2340.34 990.07 L2340.79 992.01 L2341.23 993.96 L2341.68 995.91 L2342.11 997.86 L2342.55 999.81 L2342.98 1001.76 L2343.41 1003.71 L2343.84 1005.66 L2344.26 1007.62 L2344.68 1009.57 L2345.1 1011.52 L2345.51 1013.48 L2345.92 1015.44 L2346.33 1017.39 L2346.74 1019.35 L2347.14 1021.31 L2347.54 1023.27 L2347.94 1025.23 L2348.33 1027.19 L2348.72 1029.15 L2349.11 1031.11 L2349.5 1033.07 L2349.88 1035.03 L2350.26 1037 L2350.64 1038.96 L2351.02 1040.92 L2351.39 1042.89 L2351.76 1044.85 L2352.13 1046.82 L2352.5 1048.78 L2352.86 1050.75 L2353.22 1052.72 L2353.58 1054.69 L2353.94 1056.65 L2354.29 1058.62 L2354.64 1060.59 L2354.99 1062.56 L2355.34 1064.53 L2355.69 1066.5 L2356.03 1068.47 L2356.37 1070.44 L2356.71 1072.41 L2357.05 1074.39 L2357.38 1076.36 L2357.71 1078.33 L2358.04 1080.3 L2358.37 1082.28 L2358.7 1084.25 L2359.03 1086.22 L2359.35 1088.2 L2359.67 1090.17 L2359.99 1092.15 L2360.31 1094.12 L2360.62 1096.1 L2360.94 1098.07 L2361.25 1100.05 L2361.56 1102.02 L2361.87 1104 L2362.18 1105.98 L2362.48 1107.95 L2362.79 1109.93 L2363.09 1111.91 L2363.39 1113.88 L2363.69 1115.86 L2363.99 1117.84 L2364.29 1119.81 L2364.58 1121.79 L2364.88 1123.77 L2365.17 1125.75 L2365.46 1127.72 L2365.75 1129.7 L2366.04 1131.68 L2366.33 1133.66 L2366.62 1135.63 L2366.9 1137.61 L2367.19 1139.59 L2367.47 1141.57 L2367.75 1143.55 L2368.03 1145.52 L2368.31 1147.5 L2368.59 1149.48 L2368.87 1151.46 L2369.15 1153.43 L2369.42 1155.41 L2369.7 1157.39 L2369.97 1159.36 L2370.24 1161.34 L2370.52 1163.32 L2370.79 1165.29 L2371.06 1167.27 L2371.33 1169.25 L2371.6 1171.22 L2371.87 1173.2 L2372.14 1175.18 L2372.41 1177.15 L2372.67 1179.13 L2372.94 1181.1 L2373.2 1183.08 L2373.47 1185.05 L2373.73 1187.03 L2374 1189" stroke="#1d2088"/>
<path d="M1232 40.3 L1233.99 40.29 L1235.98 40.28 L1237.98 40.27 L1239.97 40.26 L1241.96 40.26 L1243.95 40.25 L1245.95 40.25 L1247.94 40.25 L1249.93 40.26 L1251.93 40.27 L1253.92 40.28 L1255.91 40.29 L1257.91 40.3 L1259.9 40.32 L1261.9 40.34 L1263.89 40.36 L1265.88 40.38 L1267.88 40.41 L1269.87 40.43 L1271.87 40.46 L1273.87 40.5 L1275.86 40.53 L1277.86 40.57 L1279.85 40.61 L1281.85 40.65 L1283.84 40.7 L1285.84 40.74 L1287.84 40.79 L1289.83 40.85 L1291.83 40.9 L1293.83 40.96 L1295.82 41.02 L1297.82 41.08 L1299.82 41.14 L1301.81 41.21 L1303.81 41.28 L1305.81 41.35 L1307.8 41.43 L1309.8 41.5 L1311.8 41.58 L1313.79 41.66 L1315.79 41.75 L1317.79 41.83 L1319.79 41.92 L1321.78 42.02 L1323.78 42.11 L1325.78 42.21 L1327.77 42.31 L1329.77 42.41 L1331.77 42.51 L1333.77 42.62 L1335.76 42.73 L1337.76 42.84 L1339.76 42.95 L1341.75 43.07 L1343.75 43.19 L1345.75 43.31 L1347.74 43.44 L1349.74 43.57 L1351.74 43.7 L1353.73 43.83 L1355.73 43.96 L1357.72 44.1 L1359.72 44.24 L1361.72 44.38 L1363.71 44.53 L1365.71 44.68 L1367.7 44.83 L1369.7 44.98 L1371.69 45.14 L1373.69 45.3 L1375.68 45.46 L1377.68 45.62 L1379.67 45.79 L1381.67 45.96 L1383.66 46.13 L1385.65 46.3 L1387.65 46.48 L1389.64 46.66 L1391.63 46.85 L1393.63 47.03 L1395.62 47.22 L1397.61 47.41 L1399.61 47.6 L1401.6 47.8 L1403.59 48 L1405.58 48.2 L1407.57 48.4 L1409.56 48.61 L1411.55 48.82 L1413.54 49.03 L1415.53 49.25 L1417.52 49.47 L1419.51 49.69 L1421.5 49.91 L1423.49 50.14 L1425.48 50.37 L1427.47 50.6 L1429.46 50.83 L1431.44 51.07 L1433.43 51.31 L1435.42 51.56 L1437.4 51.8 L1439.39 52.05 L1441.38 52.3 L1443.36 52.56 L1445.35 52.81 L1447.33 53.07 L1449.32 53.34 L1451.3 53.6 L1453.28 53.87 L1455.27 54.14 L1457.25 54.42 L1459.23 54.69 L1461.21 54.97 L1463.19 55.26 L1465.17 55.54 L1467.15 55.83 L1469.13 56.12 L1471.11 56.42 L1473.09 56.71 L1475.07 57.01 L1477.05 57.32 L1479.03 57.62 L1481 57.93 L1482.98 58.24 L1484.96 58.56 L1486.93 58.87 L1488.91 59.2 L1490.88 59.52 L1492.86 59.85 L1494.83 60.17 L1496.8 60.51 L1498.77 60.84 L1500.75 61.18 L1502.72 61.52 L1504.69 61.87 L1506.66 62.21 L1508.63 62.56 L1510.6 62.92 L1512.56 63.27 L1514.53 63.63 L1516.5 63.99 L1518.46 64.36 L1520.43 64.73 L1522.4 65.1 L1524.36 65.47 L1526.32 65.85 L1528.29 66.23 L1530.25 66.61 L1532.21 67 L1534.17 67.39 L1536.13 67.78 L1538.09 68.18 L1540.05 68.58 L1542.01 68.98 L1543.97 69.38 L1545.92 69.79 L1547.88 70.2 L1549.84 70.62 L1551.79 71.03 L1553.75 71.45 L1555.7 71.88 L1557.65 72.3 L1559.6 72.73 L1561.56 73.17 L1563.51 73.6 L1565.46 74.04 L1567.4 74.48 L1569.35 74.93 L1571.3 75.38 L1573.25 75.83 L1575.19 76.28 L1577.14 76.74 L1579.08 77.2 L1581.02 77.67 L1582.97 78.14 L1584.91 78.61 L1586.85 79.08 L1588.79 79.56 L1590.73 80.04 L1592.67 80.52 L1594.6 81.01 L1596.54 81.5 L1598.48 81.99 L1600.41 82.49 L1602.35 82.99 L1604.28 83.49 L1606.21 83.99 L1608.14 84.5 L1610.07 85.02 L1612 85.53 L1613.93 86.05 L1615.86 86.57 L1617.78 87.1 L1619.71 87.63 L1621.64 88.16 L1623.56 88.69 L1625.48 89.23 L1627.4 89.78 L1629.32 90.32 L1631.24 90.87 L1633.16 91.42 L1635.08 91.98 L1637 92.53 L1638.91 93.1 L1640.83 93.66 L1642.74 94.23 L1644.66 94.8 L1646.57 95.38 L1648.48 95.96 L1650.39 96.54 L1652.3 97.12 L1654.21 97.71 L1656.11 98.3 L1658.02 98.9 L1659.92 99.5 L1661.83 100.1 L1663.73 100.71 L1665.63 101.31 L1667.53 101.93 L1669.43 102.54 L1671.33 103.16 L1673.22 103.78 L1675.12 104.41 L1677.01 105.04 L1678.91 105.67 L1680.8 106.31 L1682.69 106.95 L1684.58 107.59 L1686.47 108.24 L1688.36 108.89 L1690.24 109.54 L1692.13 110.2 L1694.01 110.86 L1695.89 111.52 L1697.78 112.19 L1699.66 112.86 L1701.54 113.54 L1703.41 114.21 L1705.29 114.9 L1707.17 115.58 L1709.04 116.27 L1710.91 116.96 L1712.78 117.66 L1714.65 118.36 L1716.52 119.06 L1718.39 119.77 L1720.26 120.48 L1722.12 121.19 L1723.98 121.91 L1725.84 122.63 L1727.71 123.35 L1729.56 124.08 L1731.42 124.81 L1733.28 125.54 L1735.13 126.28 L1736.99 127.03 L1738.84 127.77 L1740.69 128.52 L1742.54 129.27 L1744.39 130.03 L1746.23 130.79 L1748.08 131.55 L1749.92 132.32 L1751.76 133.09 L1753.6 133.87 L1755.44 134.65 L1757.28 135.43 L1759.11 136.22 L1760.95 137.01 L1762.78 137.8 L1764.61 138.6 L1766.44 139.4 L1768.26 140.2 L1770.09 141.01 L1771.91 141.82 L1773.74 142.64 L1775.56 143.46 L1777.38 144.28 L1779.19 145.11 L1781.01 145.94 L1782.82 146.77 L1784.64 147.61 L1786.45 148.45 L1788.26 149.3 L1790.06 150.15 L1791.87 151 L1793.67 151.86 L1795.48 152.72 L1797.28 153.59 L1799.07 154.45 L1800.87 155.33 L1802.67 156.2 L1804.46 157.08 L1806.25 157.97 L1808.04 158.86 L1809.83 159.75 L1811.61 160.64 L1813.4 161.54 L1815.18 162.44 L1816.96 163.35 L1818.74 164.26 L1820.52 165.17 L1822.29 166.09 L1824.07 167.01 L1825.84 167.94 L1827.61 168.87 L1829.37 169.8 L1831.14 170.74 L1832.9 171.68 L1834.67 172.62 L1836.43 173.57 L1838.19 174.52 L1839.94 175.47 L1841.7 176.43 L1843.45 177.39 L1845.2 178.35 L1846.95 179.32 L1848.7 180.29 L1850.44 181.27 L1852.19 182.25 L1853.93 183.23 L1855.67 184.22 L1857.4 185.21 L1859.14 186.2 L1860.87 187.2 L1862.61 188.2 L1864.34 189.2 L1866.06 190.21 L1867.79 191.22 L1869.51 192.23 L1871.24 193.25 L1872.96 194.27 L1874.68 195.29 L1876.39 196.32 L1878.11 197.35 L1879.82 198.39 L1881.53 199.42 L1883.24 200.46 L1884.94 201.51 L1886.65 202.56 L1888.35 203.61 L1890.05 204.66 L1891.75 205.72 L1893.45 206.78 L1895.14 207.84 L1896.83 208.91 L1898.52 209.98 L1900.21 211.06 L1901.9 212.13 L1903.58 213.21 L1905.27 214.3 L1906.95 215.39 L1908.63 216.48 L1910.3 217.57 L1911.98 218.67 L1913.65 219.77 L1915.32 220.87 L1916.99 221.98 L1918.65 223.08 L1920.32 224.2 L1921.98 225.31 L1923.64 226.43 L1925.3 227.55 L1926.95 228.68 L1928.6 229.81 L1930.26 230.94 L1931.91 232.07 L1933.55 233.21 L1935.2 234.35 L1936.84 235.5 L1938.48 236.64 L1940.12 237.79 L1941.75 238.95 L1943.39 240.1 L1945.02 241.26 L1946.65 242.43 L1948.28 243.59 L1949.9 244.76 L1951.52 245.94 L1953.14 247.11 L1954.76 248.29 L1956.37 249.47 L1957.99 250.66 L1959.6 251.85 L1961.21 253.04 L1962.81 254.23 L1964.41 255.43 L1966.02 256.63 L1967.61 257.84 L1969.21 259.04 L1970.8 260.25 L1972.39 261.47 L1973.98 262.68 L1975.57 263.9 L1977.15 265.13 L1978.73 266.35 L1980.31 267.58 L1981.89 268.82 L1983.46 270.05 L1985.03 271.29 L1986.6 272.53 L1988.16 273.78 L1989.73 275.03 L1991.29 276.28 L1992.85 277.53 L1994.4 278.79 L1995.95 280.05 L1997.5 281.32 L1999.05 282.59 L2000.59 283.86 L2002.13 285.13 L2003.67 286.41 L2005.21 287.69 L2006.74 288.97 L2008.27 290.26 L2009.8 291.55 L2011.33 292.84 L2012.85 294.14 L2014.37 295.44 L2015.88 296.74 L2017.4 298.05 L2018.91 299.36 L2020.42 300.67 L2021.92 301.98 L2023.42 303.3 L2024.92 304.62 L2026.42 305.95 L2027.91 307.28 L2029.4 308.61 L2030.89 309.94 L2032.37 311.28 L2033.86 312.62 L2035.33 313.96 L2036.81 315.31 L2038.28 316.66 L2039.75 318.02 L2041.22 319.37 L2042.68 320.73 L2044.14 322.1 L2045.6 323.46 L2047.05 324.83 L2048.5 326.2 L2049.95 327.58 L2051.4 328.96 L2052.84 330.34 L2054.28 331.73 L2055.71 333.12 L2057.14 334.51 L2058.57 335.9 L2060 337.3 L2061.42 338.7 L2062.84 340.11 L2064.25 341.51 L2065.67 342.92 L2067.08 344.34 L2068.48 345.76 L2069.89 347.18 L2071.28 348.6 L2072.68 350.03 L2074.07 351.46 L2075.46 352.89 L2076.85 354.33 L2078.23 355.77 L2079.61 357.21 L2080.99 358.66 L2082.36 360.1 L2083.73 361.56 L2085.09 363.01 L2086.46 364.47 L2087.81 365.93 L2089.17 367.4 L2090.52 368.87 L2091.87 370.34 L2093.21 371.81 L2094.56 373.29 L2095.89 374.77 L2097.23 376.26 L2098.56 377.74 L2099.89 379.24 L2101.21 380.73 L2102.53 382.23 L2103.84 383.73 L2105.16 385.23 L2106.47 386.74 L2107.77 388.25 L2109.07 389.76 L2110.37 391.28 L2111.67 392.79 L2112.96 394.32 L2114.24 395.84 L2115.53 397.37 L2116.81 398.9 L2118.09 400.44 L2119.36 401.97 L2120.63 403.51 L2121.9 405.06 L2123.16 406.6 L2124.42 408.15 L2125.67 409.71 L2126.92 411.26 L2128.17 412.82 L2129.42 414.38 L2130.66 415.94 L2131.9 417.51 L2133.13 419.08 L2134.36 420.65 L2135.59 422.23 L2136.81 423.81 L2138.03 425.39 L2139.25 426.97 L2140.46 428.56 L2141.67 430.15 L2142.88 431.74 L2144.08 433.33 L2145.28 434.93 L2146.48 436.53 L2147.67 438.13 L2148.86 439.74 L2150.05 441.35 L2151.23 442.96 L2152.41 444.57 L2153.58 446.19 L2154.75 447.8 L2155.92 449.43 L2157.09 451.05 L2158.25 452.68 L2159.4 454.3 L2160.56 455.94 L2161.71 457.57 L2162.86 459.21 L2164 460.85 L2165.14 462.49 L2166.28 464.13 L2167.41 465.78 L2168.54 467.43 L2169.67 469.08 L2170.79 470.73 L2171.91 472.39 L2173.03 474.05 L2174.14 475.71 L2175.25 477.37 L2176.36 479.03 L2177.46 480.7 L2178.56 482.37 L2179.66 484.05 L2180.75 485.72 L2181.84 487.4 L2182.93 489.08 L2184.01 490.76 L2185.09 492.44 L2186.16 494.13 L2187.24 495.82 L2188.3 497.51 L2189.37 499.2 L2190.43 500.89 L2191.49 502.59 L2192.55 504.29 L2193.6 505.99 L2194.65 507.69 L2195.69 509.4 L2196.74 511.11 L2197.78 512.82 L2198.81 514.53 L2199.84 516.24 L2200.87 517.96 L2201.9 519.67 L2202.92 521.39 L2203.94 523.11 L2204.95 524.84 L2205.97 526.56 L2206.98 528.29 L2207.98 530.02 L2208.98 531.75 L2209.98 533.48 L2210.98 535.22 L2211.97 536.96 L2212.96 538.69 L2213.94 540.44 L2214.93 542.18 L2215.91 543.92 L2216.88 545.67 L2217.86 547.42 L2218.82 549.17 L2219.79 550.92 L2220.75 552.67 L2221.71 554.42 L2222.67 556.18 L2223.62 557.94 L2224.57 559.7 L2225.52 561.46 L2226.46 563.22 L2227.4 564.99 L2228.34 566.76 L2229.27 568.52 L2230.2 570.29 L2231.13 572.07 L2232.05 573.84 L2232.97 575.61 L2233.89 577.39 L2234.81 579.17 L2235.72 580.95 L2236.63 582.73 L2237.53 584.51 L2238.43 586.3 L2239.33 588.08 L2240.23 589.87 L2241.12 591.66 L2242.01 593.45 L2242.89 595.24 L2243.78 597.04 L2244.66 598.83 L2245.53 600.63 L2246.41 602.43 L2247.28 604.22 L2248.14 606.03 L2249.01 607.83 L2249.87 609.63 L2250.73 611.44 L2251.58 613.24 L2252.43 615.05 L2253.28 616.86 L2254.13 618.67 L2254.97 620.49 L2255.81 622.3 L2256.64 624.11 L2257.48 625.93 L2258.31 627.75 L2259.14 629.57 L2259.96 631.39 L2260.78 633.21 L2261.6 635.03 L2262.41 636.86 L2263.23 638.68 L2264.04 640.51 L2264.84 642.34 L2265.65 644.17 L2266.45 646 L2267.24 647.83 L2268.04 649.67 L2268.83 651.5 L2269.62 653.34 L2270.4 655.17 L2271.18 657.01 L2271.96 658.85 L2272.74 660.69 L2273.51 662.53 L2274.28 664.38 L2275.05 666.22 L2275.81 668.07 L2276.57 669.91 L2277.33 671.76 L2278.09 673.61 L2278.84 675.46 L2279.59 677.31 L2280.33 679.17 L2281.07 681.02 L2281.81 682.88 L2282.55 684.73 L2283.28 686.59 L2284.01 688.45 L2284.74 690.31 L2285.47 692.17 L2286.19 694.03 L2286.9 695.9 L2287.62 697.76 L2288.33 699.63 L2289.04 701.49 L2289.74 703.36 L2290.45 705.23 L2291.15 707.1 L2291.84 708.97 L2292.54 710.85 L2293.23 712.72 L2293.91 714.59 L2294.6 716.47 L2295.28 718.35 L2295.95 720.23 L2296.63 722.11 L2297.3 723.99 L2297.97 725.87 L2298.63 727.75 L2299.29 729.63 L2299.95 731.52 L2300.61 733.4 L2301.26 735.29 L2301.91 737.18 L2302.55 739.07 L2303.19 740.96 L2303.83 742.85 L2304.47 744.74 L2305.1 746.63 L2305.73 748.53 L2306.36 750.42 L2306.98 752.32 L2307.6 754.22 L2308.22 756.12 L2308.83 758.02 L2309.44 759.92 L2310.05 761.82 L2310.65 763.72 L2311.26 765.62 L2311.85 767.53 L2312.45 769.43 L2313.04 771.34 L2313.63 773.25 L2314.21 775.15 L2314.8 777.06 L2315.38 778.97 L2315.95 780.88 L2316.53 782.8 L2317.09 784.71 L2317.66 786.62 L2318.23 788.54 L2318.79 790.45 L2319.34 792.37 L2319.9 794.29 L2320.45 796.21 L2321 798.13 L2321.54 800.05 L2322.09 801.97 L2322.62 803.89 L2323.16 805.81 L2323.69 807.74 L2324.22 809.66 L2324.75 811.59 L2325.28 813.51 L2325.8 815.44 L2326.31 817.37 L2326.83 819.3 L2327.34 821.23 L2327.85 823.16 L2328.36 825.09 L2328.86 827.02 L2329.36 828.96 L2329.86 830.89 L2330.35 832.82 L2330.84 834.76 L2331.33 836.7 L2331.81 838.63 L2332.3 840.57 L2332.77 842.51 L2333.25 844.45 L2333.72 846.39 L2334.19 848.33 L2334.66 850.27 L2335.13 852.22 L2335.59 854.16 L2336.04 856.1 L2336.5 858.05 L2336.95 859.99 L2337.4 861.94 L2337.85 863.89 L2338.29 865.83 L2338.73 867.78 L2339.17 869.73 L2339.61 871.68 L2340.04 873.63 L2340.47 875.58 L2340.89 877.54 L2341.32 879.49 L2341.74 881.44 L2342.16 883.4 L2342.57 885.35 L2342.98 887.3 L2343.39 889.26 L2343.8 891.22 L2344.2 893.17 L2344.6 895.13 L2345 897.09 L2345.4 899.05 L2345.79 901.01 L2346.18 902.97 L2346.56 904.93 L2346.95 906.89 L2347.33 908.85 L2347.71 910.82 L2348.08 912.78 L2348.45 914.74 L2348.82 916.71 L2349.19 918.67 L2349.56 920.64 L2349.92 922.61 L2350.28 924.57 L2350.63 926.54 L2350.98 928.51 L2351.33 930.48 L2351.68 932.44 L2352.03 934.41 L2352.37 936.38 L2352.71 938.35 L2353.04 940.33 L2353.38 942.3 L2353.71 944.27 L2354.04 946.24 L2354.36 948.21 L2354.69 950.19 L2355.01 952.16 L2355.32 954.14 L2355.64 956.11 L2355.95 958.09 L2356.26 960.06 L2356.57 962.04 L2356.87 964.02 L2357.17 965.99 L2357.47 967.97 L2357.77 969.95 L2358.06 971.93 L2358.35 973.91 L2358.64 975.89 L2358.92 977.87 L2359.2 979.85 L2359.48 981.83 L2359.76 983.81 L2360.04 985.79 L2360.31 987.77 L2360.58 989.75 L2360.84 991.74 L2361.11 993.72 L2361.37 995.7 L2361.63 997.69 L2361.89 999.67 L2362.14 1001.65 L2362.39 1003.64 L2362.64 1005.62 L2362.88 1007.61 L2363.13 1009.6 L2363.37 1011.58 L2363.61 1013.57 L2363.84 1015.55 L2364.08 1017.54 L2364.31 1019.53 L2364.53 1021.52 L2364.76 1023.5 L2364.98 1025.49 L2365.2 1027.48 L2365.42 1029.47 L2365.64 1031.46 L2365.85 1033.45 L2366.06 1035.44 L2366.27 1037.43 L2366.47 1039.42 L2366.67 1041.41 L2366.87 1043.4 L2367.07 1045.39 L2367.27 1047.38 L2367.46 1049.37 L2367.65 1051.36 L2367.84 1053.35 L2368.02 1055.35 L2368.2 1057.34 L2368.38 1059.33 L2368.56 1061.32 L2368.74 1063.32 L2368.91 1065.31 L2369.08 1067.3 L2369.25 1069.29 L2369.41 1071.29 L2369.58 1073.28 L2369.74 1075.28 L2369.89 1077.27 L2370.05 1079.26 L2370.2 1081.26 L2370.35 1083.25 L2370.5 1085.25 L2370.65 1087.24 L2370.79 1089.23 L2370.93 1091.23 L2371.07 1093.22 L2371.21 1095.22 L2371.34 1097.21 L2371.47 1099.21 L2371.6 1101.2 L2371.73 1103.2 L2371.86 1105.2 L2371.98 1107.19 L2372.1 1109.19 L2372.21 1111.18 L2372.33 1113.18 L2372.44 1115.17 L2372.55 1117.17 L2372.66 1119.16 L2372.77 1121.16 L2372.87 1123.16 L2372.97 1125.15 L2373.07 1127.15 L2373.17 1129.14 L2373.26 1131.14 L2373.35 1133.14 L2373.44 1135.13 L2373.53 1137.13 L2373.61 1139.12 L2373.7 1141.12 L2373.78 1143.11 L2373.85 1145.11 L2373.93 1147.11 L2374 1149.1 L2374.07 1151.1 L2374.14 1153.09 L2374.21 1155.09 L2374.27 1157.08 L2374.34 1159.08 L2374.4 1161.07 L2374.45 1163.07 L2374.51 1165.07 L2374.56 1167.06 L2374.61 1169.06 L2374.66 1171.05 L2374.71 1173.05 L2374.75 1175.04 L2374.8 1177.03 L2374.84 1179.03 L2374.87 1181.02 L2374.91 1183.02 L2374.94 1185.01 L2374.97 1187.01 L2375 1189" stroke="#1d2088"/>
</g>
<rect x="1231" y="38.8" width="1151.2" height="1151" fill="none" stroke="#231815" stroke-width="2.2"/>
<line x1="1231" y1="263.9" x2="1254" y2="263.9" stroke="#231815" stroke-width="3.8"/>
<line x1="1231" y1="496" x2="1254" y2="496" stroke="#231815" stroke-width="3.8"/>
<line x1="1231" y1="733.9" x2="1254" y2="733.9" stroke="#231815" stroke-width="3.8"/>
<line x1="1231" y1="956.8" x2="1254" y2="956.8" stroke="#231815" stroke-width="3.8"/>
<line x1="2382" y1="263.9" x2="2359.5" y2="263.9" stroke="#231815" stroke-width="3.8"/>
<line x1="2382" y1="496" x2="2359.5" y2="496" stroke="#231815" stroke-width="3.8"/>
<line x1="2382" y1="731.9" x2="2359.5" y2="731.9" stroke="#231815" stroke-width="3.8"/>
<line x1="2382" y1="957.1" x2="2359.5" y2="957.1" stroke="#231815" stroke-width="3.8"/>
<line x1="1464.8" y1="1189.5" x2="1464.8" y2="1169" stroke="#231815" stroke-width="3.6"/>
<line x1="1693.1" y1="1189.5" x2="1693.1" y2="1169" stroke="#231815" stroke-width="3.6"/>
<line x1="1925.2" y1="1189.5" x2="1925.2" y2="1169" stroke="#231815" stroke-width="3.6"/>
<line x1="2156.8" y1="1189.5" x2="2156.8" y2="1169" stroke="#231815" stroke-width="3.6"/>
<rect x="1442.5" y="361.8" width="24" height="24" fill="#fff100" stroke="#1d2088" stroke-width="7"/>
<rect x="1567.1" y="411" width="24" height="24" fill="#fff100" stroke="#1d2088" stroke-width="7"/>
<rect x="1681.6" y="415.6" width="24" height="24" fill="#fff100" stroke="#1d2088" stroke-width="7"/>
<rect x="1796.1" y="452" width="24" height="24" fill="#fff100" stroke="#1d2088" stroke-width="7"/>
<rect x="1915.5" y="486.5" width="24" height="24" fill="#fff100" stroke="#1d2088" stroke-width="7"/>
<rect x="2030" y="545" width="24" height="24" fill="#fff100" stroke="#1d2088" stroke-width="7"/>
<rect x="2146.2" y="698.7" width="24" height="24" fill="#fff100" stroke="#1d2088" stroke-width="7"/>
<circle cx="1230.3" cy="39.8" r="12" fill="#fff100" stroke="#1d2088" stroke-width="6.8"/>
<circle cx="1462" cy="67.2" r="12" fill="#fff100" stroke="#1d2088" stroke-width="6.8"/>
<circle cx="1576.3" cy="91.6" r="12" fill="#fff100" stroke="#1d2088" stroke-width="6.8"/>
<circle cx="1695.8" cy="130.7" r="12" fill="#fff100" stroke="#1d2088" stroke-width="6.8"/>
<circle cx="1805.2" cy="177" r="12" fill="#fff100" stroke="#1d2088" stroke-width="6.8"/>
<circle cx="1927.3" cy="237.6" r="12" fill="#fff100" stroke="#1d2088" stroke-width="6.8"/>
<circle cx="2034" cy="327.7" r="12" fill="#fff100" stroke="#1d2088" stroke-width="6.8"/>
<circle cx="2153.6" cy="476" r="12" fill="#fff100" stroke="#1d2088" stroke-width="6.8"/>
<circle cx="2278.2" cy="685.9" r="12" fill="#fff100" stroke="#1d2088" stroke-width="6.8"/>
<circle cx="1447.5" cy="642" r="12" fill="#e60012" stroke="#1d2088" stroke-width="6.8"/>
<circle cx="1581.3" cy="592.8" r="12" fill="#e60012" stroke="#1d2088" stroke-width="6.8"/>
<circle cx="1683.5" cy="595.9" r="12" fill="#e60012" stroke="#1d2088" stroke-width="6.8"/>
<circle cx="1807.8" cy="603.3" r="12" fill="#e60012" stroke="#1d2088" stroke-width="6.8"/>
<circle cx="1927.3" cy="629.9" r="12" fill="#e60012" stroke="#1d2088" stroke-width="6.8"/>
<circle cx="2039.3" cy="651.6" r="12" fill="#e60012" stroke="#1d2088" stroke-width="6.8"/>
<circle cx="2156" cy="763.8" r="12" fill="#e60012" stroke="#1d2088" stroke-width="6.8"/>
<circle cx="2273" cy="936.6" r="12" fill="#e60012" stroke="#1d2088" stroke-width="6.8"/>
<circle cx="1461.8" cy="1073" r="12" fill="#e60012" stroke="#1d2088" stroke-width="6.8"/>
<circle cx="1578.6" cy="1100" r="12" fill="#e60012" stroke="#1d2088" stroke-width="6.8"/>
<circle cx="1693.4" cy="1136.5" r="12" fill="#e60012" stroke="#1d2088" stroke-width="6.8"/>
<circle cx="1807.9" cy="1070.2" r="12" fill="#e60012" stroke="#1d2088" stroke-width="6.8"/>
<circle cx="1932" cy="1065.9" r="12" fill="#e60012" stroke="#1d2088" stroke-width="6.8"/>
<circle cx="2039.1" cy="1075.3" r="12" fill="#e60012" stroke="#1d2088" stroke-width="6.8"/>
<circle cx="2158.2" cy="1080" r="12" fill="#e60012" stroke="#1d2088" stroke-width="6.8"/>
<circle cx="2270.5" cy="1121.9" r="12" fill="#e60012" stroke="#1d2088" stroke-width="6.8"/>
<circle cx="1578.6" cy="1060.7" r="12" fill="#fff" stroke="#1d2088" stroke-width="6.8"/>
<circle cx="1690.9" cy="1080.2" r="12" fill="#fff" stroke="#1d2088" stroke-width="6.8"/>
<circle cx="1810.2" cy="1100.3" r="12" fill="#fff" stroke="#1d2088" stroke-width="6.8"/>
<circle cx="1927.2" cy="1136.4" r="12" fill="#fff" stroke="#1d2088" stroke-width="6.8"/>
<circle cx="2039.1" cy="1148.5" r="12" fill="#fff" stroke="#1d2088" stroke-width="6.8"/>
<circle cx="2160.7" cy="1148.7" r="12" fill="#fff" stroke="#1d2088" stroke-width="6.8"/>
<circle cx="2268.4" cy="1158.4" r="12" fill="#fff" stroke="#1d2088" stroke-width="6.8"/>
<text transform="matrix(0.77 0 0 0.79 24.49 125.62)" font-size="100" font-weight="normal" fill="#231815" stroke="#231815" stroke-width="1.29" stroke-linejoin="round">1.0</text>
<text transform="matrix(0.77 0 0 0.79 38.31 715.11)" font-size="100" font-weight="normal" fill="#231815" stroke="#231815" stroke-width="1.28" stroke-linejoin="round">0.5</text>
<text transform="matrix(0.66 0 0 0.67 185.18 89.03)" font-size="100" font-weight="normal" fill="#231815" stroke="#231815" stroke-width="1.51" stroke-linejoin="round">m, rel.units</text>
<text transform="matrix(0.69 0 0 0.69 471.24 225.41)" font-size="100" font-weight="normal" fill="#231815" stroke="#231815" stroke-width="1.46" stroke-linejoin="round">LuFe</text>
<text transform="matrix(0.37 0 0 0.38 616.88 240.8)" font-size="100" font-weight="normal" fill="#231815" stroke="#231815" stroke-width="2.68" stroke-linejoin="round">1-x</text>
<text transform="matrix(0.68 0 0 0.69 665.67 225.41)" font-size="100" font-weight="normal" fill="#231815" stroke="#231815" stroke-width="1.46" stroke-linejoin="round">Cr</text>
<text transform="matrix(0.34 0 0 0.37 734.26 240.8)" font-size="100" font-weight="normal" fill="#231815" stroke="#231815" stroke-width="2.82" stroke-linejoin="round">x</text>
<text transform="matrix(0.69 0 0 0.69 752.06 225.41)" font-size="100" font-weight="normal" fill="#231815" stroke="#231815" stroke-width="1.46" stroke-linejoin="round">O</text>
<text transform="matrix(0.37 0 0 0.4 800.56 241.3)" font-size="100" font-weight="normal" fill="#231815" stroke="#231815" stroke-width="2.62" stroke-linejoin="round">3</text>
<text transform="matrix(0.78 0 0 0.81 859.41 1238)" font-size="100" font-weight="bold" fill="#231815">x</text>
<text transform="matrix(0.81 0 0 0.78 50.47 1333.73)" font-size="100" font-weight="normal" fill="#231815" stroke="#231815" stroke-width="1.26" stroke-linejoin="round">0.0</text>
<text transform="matrix(0.67 0 0 0.66 261.61 1337.51)" font-size="100" font-weight="normal" fill="#231815" stroke="#231815" stroke-width="1.51" stroke-linejoin="round">0.2</text>
<text transform="matrix(0.65 0 0 0.65 417.07 1337.53)" font-size="100" font-weight="normal" fill="#231815" stroke="#231815" stroke-width="1.54" stroke-linejoin="round">0.4</text>
<text transform="matrix(0.65 0 0 0.65 568.56 1337.53)" font-size="100" font-weight="normal" fill="#231815" stroke="#231815" stroke-width="1.54" stroke-linejoin="round">0.6</text>
<text transform="matrix(0.65 0 0 0.65 720.06 1337.53)" font-size="100" font-weight="normal" fill="#231815" stroke="#231815" stroke-width="1.54" stroke-linejoin="round">0.8</text>
<text transform="matrix(0.64 0 0 0.66 869.92 1333.21)" font-size="100" font-weight="normal" fill="#231815" stroke="#231815" stroke-width="1.54" stroke-linejoin="round">1.0</text>
<text transform="matrix(0.72 0 0 0.76 448.46 1431.35)" font-size="100" font-weight="normal" fill="#000">(<tspan font-weight="bold">a</tspan>)</text>
<text transform="matrix(0.65 0 0 0.67 1123.78 67.5)" font-size="100" font-weight="normal" fill="#231815">1.0</text>
<text transform="matrix(0.65 0 0 0.66 1125.58 286.5)" font-size="100" font-weight="normal" fill="#231815">0.8</text>
<text transform="matrix(0.65 0 0 0.67 1132.55 515.59)" font-size="100" font-weight="normal" fill="#231815">0.6</text>
<text transform="matrix(0.66 0 0 0.67 1128.53 755.59)" font-size="100" font-weight="normal" fill="#231815">0.4</text>
<text transform="matrix(0.67 0 0 0.67 1128.47 981.69)" font-size="100" font-weight="normal" fill="#231815">0.2</text>
<text transform="matrix(0 -0.99 0.99 0 1097.62 639.97)" font-size="100" font-weight="normal" fill="#231815">m, r.u.</text>
<text transform="matrix(0.66 0 0 0.67 1146.41 1239.8)" font-size="100" font-weight="normal" fill="#231815">0.0</text>
<text transform="matrix(0.68 0 0 0.66 1414.16 1253.41)" font-size="100" font-weight="normal" fill="#231815">0.2</text>
<text transform="matrix(0.65 0 0 0.68 1651.55 1253.78)" font-size="100" font-weight="normal" fill="#231815">0.4</text>
<text transform="matrix(0.66 0 0 0.68 1874.02 1253.78)" font-size="100" font-weight="normal" fill="#231815">0.6</text>
<text transform="matrix(0.65 0 0 0.67 2110.46 1257.69)" font-size="100" font-weight="normal" fill="#231815">0.8</text>
<text transform="matrix(0.64 0 0 0.67 2334.88 1253.99)" font-size="100" font-weight="normal" fill="#231815">1.0</text>
<text transform="matrix(0.8 0 0 0.84 2238.4 1294.54)" font-size="100" font-weight="normal" fill="#231815" font-family="Noto Serif CJK SC, 'Liberation Serif', serif">τ</text>
<text transform="matrix(0.87 0 0 0.87 1928.4 129.43)" font-size="100" font-weight="normal" fill="#231815">LuFe</text>
<text transform="matrix(0.45 0 0 0.46 2111.82 148.7)" font-size="100" font-weight="normal" fill="#231815">1-x</text>
<text transform="matrix(0.87 0 0 0.87 2172.01 129.43)" font-size="100" font-weight="normal" fill="#231815">Cr</text>
<text transform="matrix(0.46 0 0 0.45 2258.04 148.7)" font-size="100" font-weight="normal" fill="#231815">x</text>
<text transform="matrix(0.86 0 0 0.87 2281.64 129.43)" font-size="100" font-weight="normal" fill="#231815">O</text>
<text transform="matrix(0.44 0 0 0.48 2343.19 150.02)" font-size="100" font-weight="normal" fill="#231815">3</text>
<text transform="matrix(0.66 0 0 0.69 2050.63 298.51)" font-size="100" font-weight="normal" fill="#231815">5</text>
<text transform="matrix(0.65 0 0 0.69 1913.49 405.6)" font-size="100" font-weight="normal" fill="#231815">4</text>
<text transform="matrix(0.6 0 0 0.68 1840.16 562.12)" font-size="100" font-weight="normal" fill="#231815">3</text>
<text transform="matrix(0.73 0 0 0.69 1832.71 1010.8)" font-size="100" font-weight="normal" fill="#231815">2</text>
<text transform="matrix(0.49 0 0 0.69 1843.43 1164.5)" font-size="100" font-weight="normal" fill="#231815">1</text>
<text transform="matrix(0.75 0 0 0.77 1686.63 1431.36)" font-size="100" font-weight="normal" fill="#000">(<tspan font-weight="bold">b</tspan>)</text>
</svg>
</body></html>
